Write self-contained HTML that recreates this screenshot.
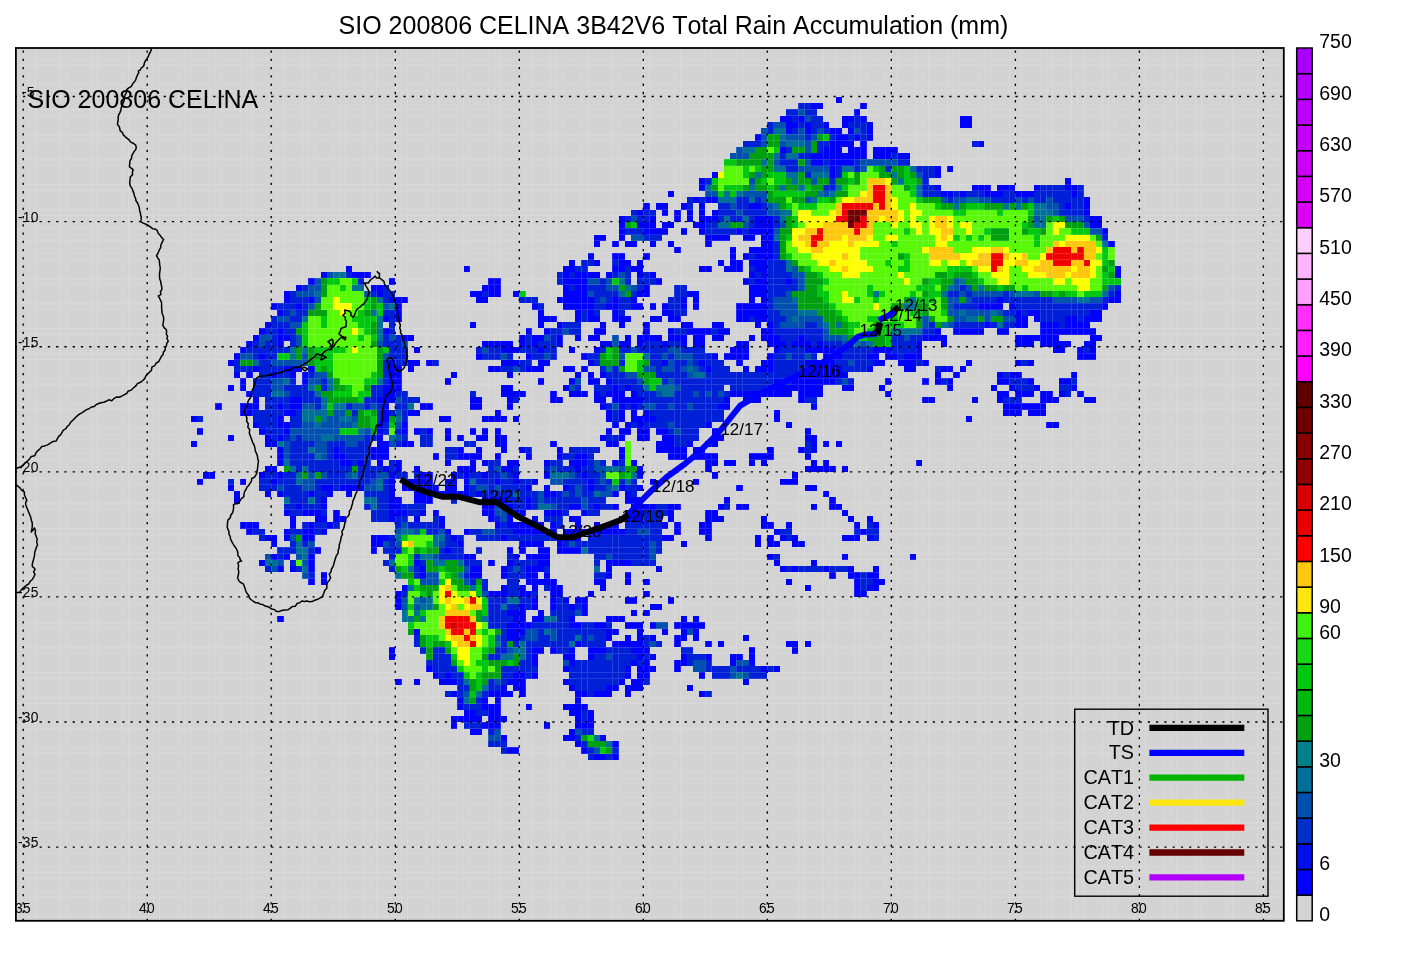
<!DOCTYPE html>
<html lang="en"><head><meta charset="utf-8"><title>SIO 200806 CELINA 3B42V6 Total Rain Accumulation (mm)</title>
<style>html,body{margin:0;padding:0;background:#fff}body{width:1425px;height:971px;overflow:hidden}svg{display:block;will-change:transform}text{font-family:"Liberation Sans",Arial,Helvetica,sans-serif;fill:#000;font-kerning:none;font-variant-ligatures:none}</style>
</head><body>
<svg width="1425" height="971" viewBox="0 0 1425 971">
<rect x="0" y="0" width="1425" height="971" fill="#fff"/>
<rect x="15.9" y="48.0" width="1267.9" height="872.8" fill="#d3d3d3"/>
<g shape-rendering="crispEdges">
<path fill="#0000ff" d="M835.5 96.9H841.7V103.2H835.5zM810.7 103.2H823.1V109.4H810.7zM860.3 103.2H866.5V109.4H860.3zM854.1 109.4H860.3V115.7H854.1zM779.7 115.7H792.1V121.9H779.7zM798.3 115.7H804.5V121.9H798.3zM841.7 115.7H854.1V121.9H841.7zM860.3 115.7H866.5V121.9H860.3zM959.6 115.7H972.0V121.9H959.6zM785.9 121.9H798.3V128.2H785.9zM804.5 121.9H810.7V128.2H804.5zM823.1 121.9H829.3V128.2H823.1zM841.7 121.9H847.9V128.2H841.7zM866.5 121.9H872.7V128.2H866.5zM959.6 121.9H972.0V128.2H959.6zM785.9 128.2H792.1V134.4H785.9zM804.5 128.2H810.7V134.4H804.5zM829.3 128.2H841.7V134.4H829.3zM847.9 128.2H854.1V134.4H847.9zM866.5 128.2H872.7V134.4H866.5zM754.9 134.4H761.1V140.7H754.9zM835.5 134.4H847.9V140.7H835.5zM854.1 134.4H860.3V140.7H854.1zM866.5 134.4H872.7V140.7H866.5zM829.3 140.7H854.1V146.9H829.3zM860.3 140.7H866.5V146.9H860.3zM978.2 140.7H984.4V146.9H978.2zM779.7 146.9H785.9V153.2H779.7zM823.1 146.9H841.7V153.2H823.1zM847.9 146.9H866.5V153.2H847.9zM872.7 146.9H897.5V153.2H872.7zM810.7 153.2H866.5V159.4H810.7zM872.7 153.2H891.3V159.4H872.7zM897.5 153.2H909.9V159.4H897.5zM810.7 159.4H823.1V165.7H810.7zM829.3 159.4H854.1V165.7H829.3zM829.3 165.7H835.5V172.0H829.3zM934.7 165.7H940.9V172.0H934.7zM947.1 165.7H953.4V172.0H947.1zM711.5 172.0H717.7V178.2H711.5zM829.3 172.0H835.5V178.2H829.3zM934.7 172.0H940.9V178.2H934.7zM699.1 178.2H705.3V184.5H699.1zM1065.0 178.2H1071.2V184.5H1065.0zM699.1 184.5H705.3V190.7H699.1zM934.7 184.5H940.9V190.7H934.7zM972.0 184.5H990.6V190.7H972.0zM996.8 184.5H1015.4V190.7H996.8zM1034.0 184.5H1040.2V190.7H1034.0zM1065.0 184.5H1077.4V190.7H1065.0zM668.1 190.7H674.3V197.0H668.1zM940.9 190.7H953.4V197.0H940.9zM959.6 190.7H965.8V197.0H959.6zM984.4 190.7H1003.0V197.0H984.4zM1015.4 190.7H1034.0V197.0H1015.4zM1071.2 190.7H1077.4V197.0H1071.2zM692.9 197.0H699.1V203.2H692.9zM705.3 197.0H717.7V203.2H705.3zM1083.6 197.0H1089.8V203.2H1083.6zM643.3 203.2H649.5V209.5H643.3zM655.7 203.2H668.1V209.5H655.7zM680.5 203.2H686.7V209.5H680.5zM699.1 203.2H705.3V209.5H699.1zM748.7 203.2H761.1V209.5H748.7zM1065.0 203.2H1071.2V209.5H1065.0zM1083.6 203.2H1089.8V209.5H1083.6zM637.1 209.5H643.3V215.7H637.1zM661.9 209.5H668.1V215.7H661.9zM674.3 209.5H680.5V215.7H674.3zM686.7 209.5H692.9V215.7H686.7zM699.1 209.5H705.3V215.7H699.1zM711.5 209.5H717.7V215.7H711.5zM1083.6 209.5H1089.8V215.7H1083.6zM618.5 215.7H624.7V222.0H618.5zM649.5 215.7H655.7V222.0H649.5zM674.3 215.7H680.5V222.0H674.3zM686.7 215.7H692.9V222.0H686.7zM699.1 215.7H717.7V222.0H699.1zM754.9 215.7H773.5V222.0H754.9zM1089.8 215.7H1102.2V222.0H1089.8zM618.5 222.0H624.7V228.3H618.5zM637.1 222.0H655.7V228.3H637.1zM661.9 222.0H674.3V228.3H661.9zM692.9 222.0H705.3V228.3H692.9zM754.9 222.0H773.5V228.3H754.9zM1089.8 222.0H1102.2V228.3H1089.8zM618.5 228.3H624.7V234.5H618.5zM643.3 228.3H668.1V234.5H643.3zM680.5 228.3H686.7V234.5H680.5zM699.1 228.3H705.3V234.5H699.1zM736.3 228.3H742.5V234.5H736.3zM748.7 228.3H773.5V234.5H748.7zM1102.2 228.3H1108.4V234.5H1102.2zM593.7 234.5H606.1V240.8H593.7zM618.5 234.5H624.7V240.8H618.5zM705.3 234.5H730.1V240.8H705.3zM742.5 234.5H754.9V240.8H742.5zM761.1 234.5H773.5V240.8H761.1zM593.7 240.8H599.9V247.0H593.7zM612.3 240.8H618.5V247.0H612.3zM624.7 240.8H637.1V247.0H624.7zM649.5 240.8H655.7V247.0H649.5zM668.1 240.8H674.3V247.0H668.1zM705.3 240.8H711.5V247.0H705.3zM761.1 240.8H773.5V247.0H761.1zM1108.4 240.8H1114.6V247.0H1108.4zM674.3 247.0H680.5V253.3H674.3zM730.1 247.0H736.3V253.3H730.1zM748.7 247.0H773.5V253.3H748.7zM587.5 253.3H593.7V259.5H587.5zM612.3 253.3H624.7V259.5H612.3zM643.3 253.3H649.5V259.5H643.3zM730.1 253.3H736.3V259.5H730.1zM742.5 253.3H748.7V259.5H742.5zM754.9 253.3H773.5V259.5H754.9zM568.9 259.5H575.1V265.8H568.9zM593.7 259.5H599.9V265.8H593.7zM618.5 259.5H630.9V265.8H618.5zM637.1 259.5H643.3V265.8H637.1zM717.7 259.5H723.9V265.8H717.7zM730.1 259.5H742.5V265.8H730.1zM748.7 259.5H767.3V265.8H748.7zM345.7 265.8H351.9V272.0H345.7zM463.5 265.8H469.7V272.0H463.5zM562.7 265.8H575.1V272.0H562.7zM612.3 265.8H624.7V272.0H612.3zM630.9 265.8H643.3V272.0H630.9zM699.1 265.8H711.5V272.0H699.1zM723.9 265.8H742.5V272.0H723.9zM754.9 265.8H767.3V272.0H754.9zM1114.6 265.8H1120.8V272.0H1114.6zM320.8 272.0H327.0V278.3H320.8zM351.9 272.0H370.5V278.3H351.9zM562.7 272.0H568.9V278.3H562.7zM575.1 272.0H599.9V278.3H575.1zM606.1 272.0H612.3V278.3H606.1zM637.1 272.0H643.3V278.3H637.1zM649.5 272.0H655.7V278.3H649.5zM748.7 272.0H754.9V278.3H748.7zM761.1 272.0H767.3V278.3H761.1zM1114.6 272.0H1120.8V278.3H1114.6zM308.4 278.3H314.6V284.6H308.4zM389.1 278.3H395.3V284.6H389.1zM488.3 278.3H500.7V284.6H488.3zM562.7 278.3H587.5V284.6H562.7zM655.7 278.3H661.9V284.6H655.7zM742.5 278.3H748.7V284.6H742.5zM754.9 278.3H767.3V284.6H754.9zM785.9 278.3H792.1V284.6H785.9zM296.0 284.6H302.2V290.8H296.0zM370.5 284.6H382.9V290.8H370.5zM482.1 284.6H500.7V290.8H482.1zM562.7 284.6H568.9V290.8H562.7zM575.1 284.6H587.5V290.8H575.1zM643.3 284.6H649.5V290.8H643.3zM748.7 284.6H767.3V290.8H748.7zM283.6 290.8H289.8V297.1H283.6zM376.7 290.8H382.9V297.1H376.7zM469.7 290.8H482.1V297.1H469.7zM488.3 290.8H500.7V297.1H488.3zM513.1 290.8H519.3V297.1H513.1zM562.7 290.8H587.5V297.1H562.7zM637.1 290.8H649.5V297.1H637.1zM686.7 290.8H699.1V297.1H686.7zM748.7 290.8H767.3V297.1H748.7zM1114.6 290.8H1120.8V297.1H1114.6zM283.6 297.1H289.8V303.3H283.6zM308.4 297.1H314.6V303.3H308.4zM389.1 297.1H407.7V303.3H389.1zM475.9 297.1H488.3V303.3H475.9zM556.5 297.1H593.7V303.3H556.5zM612.3 297.1H618.5V303.3H612.3zM630.9 297.1H637.1V303.3H630.9zM680.5 297.1H686.7V303.3H680.5zM692.9 297.1H699.1V303.3H692.9zM748.7 297.1H754.9V303.3H748.7zM761.1 297.1H767.3V303.3H761.1zM996.8 297.1H1003.0V303.3H996.8zM1108.4 297.1H1120.8V303.3H1108.4zM271.2 303.3H277.4V309.6H271.2zM296.0 303.3H302.2V309.6H296.0zM395.3 303.3H401.5V309.6H395.3zM531.7 303.3H537.9V309.6H531.7zM562.7 303.3H593.7V309.6H562.7zM606.1 303.3H618.5V309.6H606.1zM630.9 303.3H643.3V309.6H630.9zM649.5 303.3H655.7V309.6H649.5zM661.9 303.3H668.1V309.6H661.9zM680.5 303.3H686.7V309.6H680.5zM692.9 303.3H699.1V309.6H692.9zM736.3 303.3H767.3V309.6H736.3zM978.2 303.3H1003.0V309.6H978.2zM1009.2 303.3H1015.4V309.6H1009.2zM1102.2 303.3H1108.4V309.6H1102.2zM277.4 309.6H283.6V315.8H277.4zM395.3 309.6H401.5V315.8H395.3zM537.9 309.6H544.1V315.8H537.9zM575.1 309.6H581.3V315.8H575.1zM587.5 309.6H593.7V315.8H587.5zM612.3 309.6H618.5V315.8H612.3zM661.9 309.6H674.3V315.8H661.9zM736.3 309.6H767.3V315.8H736.3zM1015.4 309.6H1021.6V315.8H1015.4zM1027.8 309.6H1040.2V315.8H1027.8zM1089.8 309.6H1102.2V315.8H1089.8zM382.9 315.8H389.1V322.1H382.9zM395.3 315.8H401.5V322.1H395.3zM537.9 315.8H556.5V322.1H537.9zM575.1 315.8H581.3V322.1H575.1zM587.5 315.8H599.9V322.1H587.5zM612.3 315.8H630.9V322.1H612.3zM649.5 315.8H661.9V322.1H649.5zM668.1 315.8H680.5V322.1H668.1zM736.3 315.8H748.7V322.1H736.3zM754.9 315.8H767.3V322.1H754.9zM1015.4 315.8H1027.8V322.1H1015.4zM1034.0 315.8H1040.2V322.1H1034.0zM1065.0 315.8H1077.4V322.1H1065.0zM1083.6 315.8H1102.2V322.1H1083.6zM265.0 322.1H271.2V328.3H265.0zM469.7 322.1H475.9V328.3H469.7zM537.9 322.1H544.1V328.3H537.9zM556.5 322.1H562.7V328.3H556.5zM599.9 322.1H606.1V328.3H599.9zM618.5 322.1H624.7V328.3H618.5zM643.3 322.1H649.5V328.3H643.3zM680.5 322.1H692.9V328.3H680.5zM711.5 322.1H723.9V328.3H711.5zM754.9 322.1H761.1V328.3H754.9zM767.3 322.1H773.5V328.3H767.3zM984.4 322.1H990.6V328.3H984.4zM1015.4 322.1H1027.8V328.3H1015.4zM1040.2 322.1H1058.8V328.3H1040.2zM1065.0 322.1H1089.8V328.3H1065.0zM258.8 328.3H265.0V334.6H258.8zM277.4 328.3H283.6V334.6H277.4zM382.9 328.3H389.1V334.6H382.9zM525.5 328.3H531.7V334.6H525.5zM544.1 328.3H550.3V334.6H544.1zM593.7 328.3H606.1V334.6H593.7zM643.3 328.3H649.5V334.6H643.3zM668.1 328.3H674.3V334.6H668.1zM686.7 328.3H711.5V334.6H686.7zM717.7 328.3H730.1V334.6H717.7zM761.1 328.3H773.5V334.6H761.1zM934.7 328.3H940.9V334.6H934.7zM953.4 328.3H984.4V334.6H953.4zM996.8 328.3H1009.2V334.6H996.8zM1040.2 328.3H1096.0V334.6H1040.2zM252.6 334.6H258.8V340.8H252.6zM277.4 334.6H289.8V340.8H277.4zM401.5 334.6H413.9V340.8H401.5zM519.3 334.6H525.5V340.8H519.3zM531.7 334.6H544.1V340.8H531.7zM556.5 334.6H562.7V340.8H556.5zM575.1 334.6H581.3V340.8H575.1zM587.5 334.6H599.9V340.8H587.5zM624.7 334.6H630.9V340.8H624.7zM637.1 334.6H661.9V340.8H637.1zM668.1 334.6H686.7V340.8H668.1zM692.9 334.6H705.3V340.8H692.9zM711.5 334.6H723.9V340.8H711.5zM748.7 334.6H754.9V340.8H748.7zM761.1 334.6H779.7V340.8H761.1zM798.3 334.6H804.5V340.8H798.3zM922.3 334.6H947.1V340.8H922.3zM1015.4 334.6H1058.8V340.8H1015.4zM1089.8 334.6H1102.2V340.8H1089.8zM246.4 340.8H252.6V347.1H246.4zM277.4 340.8H283.6V347.1H277.4zM482.1 340.8H513.1V347.1H482.1zM519.3 340.8H525.5V347.1H519.3zM531.7 340.8H537.9V347.1H531.7zM556.5 340.8H562.7V347.1H556.5zM599.9 340.8H612.3V347.1H599.9zM618.5 340.8H630.9V347.1H618.5zM637.1 340.8H643.3V347.1H637.1zM661.9 340.8H668.1V347.1H661.9zM680.5 340.8H686.7V347.1H680.5zM692.9 340.8H705.3V347.1H692.9zM736.3 340.8H748.7V347.1H736.3zM767.3 340.8H785.9V347.1H767.3zM792.1 340.8H810.7V347.1H792.1zM816.9 340.8H823.1V347.1H816.9zM916.1 340.8H922.3V347.1H916.1zM940.9 340.8H947.1V347.1H940.9zM1015.4 340.8H1034.0V347.1H1015.4zM1040.2 340.8H1071.2V347.1H1040.2zM1083.6 340.8H1096.0V347.1H1083.6zM240.2 347.1H246.4V353.4H240.2zM413.9 347.1H420.1V353.4H413.9zM500.7 347.1H519.3V353.4H500.7zM537.9 347.1H544.1V353.4H537.9zM568.9 347.1H575.1V353.4H568.9zM593.7 347.1H599.9V353.4H593.7zM730.1 347.1H748.7V353.4H730.1zM773.5 347.1H779.7V353.4H773.5zM804.5 347.1H835.5V353.4H804.5zM872.7 347.1H891.3V353.4H872.7zM916.1 347.1H922.3V353.4H916.1zM1052.6 347.1H1065.0V353.4H1052.6zM1077.4 347.1H1083.6V353.4H1077.4zM1089.8 347.1H1096.0V353.4H1089.8zM234.0 353.4H240.2V359.6H234.0zM258.8 353.4H265.0V359.6H258.8zM475.9 353.4H482.1V359.6H475.9zM525.5 353.4H531.7V359.6H525.5zM581.3 353.4H587.5V359.6H581.3zM711.5 353.4H717.7V359.6H711.5zM723.9 353.4H748.7V359.6H723.9zM767.3 353.4H773.5V359.6H767.3zM823.1 353.4H841.7V359.6H823.1zM866.5 353.4H878.9V359.6H866.5zM885.1 353.4H897.5V359.6H885.1zM903.7 353.4H922.3V359.6H903.7zM1077.4 353.4H1096.0V359.6H1077.4zM227.8 359.6H234.0V365.9H227.8zM389.1 359.6H395.3V365.9H389.1zM407.7 359.6H420.1V365.9H407.7zM426.3 359.6H432.5V365.9H426.3zM500.7 359.6H519.3V365.9H500.7zM537.9 359.6H550.3V365.9H537.9zM587.5 359.6H593.7V365.9H587.5zM661.9 359.6H668.1V365.9H661.9zM699.1 359.6H705.3V365.9H699.1zM736.3 359.6H742.5V365.9H736.3zM761.1 359.6H773.5V365.9H761.1zM804.5 359.6H835.5V365.9H804.5zM872.7 359.6H885.1V365.9H872.7zM897.5 359.6H916.1V365.9H897.5zM922.3 359.6H928.5V365.9H922.3zM965.8 359.6H972.0V365.9H965.8zM1015.4 359.6H1021.6V365.9H1015.4zM1027.8 359.6H1034.0V365.9H1027.8zM252.6 365.9H258.8V372.1H252.6zM283.6 365.9H302.2V372.1H283.6zM308.4 365.9H314.6V372.1H308.4zM389.1 365.9H401.5V372.1H389.1zM407.7 365.9H413.9V372.1H407.7zM488.3 365.9H500.7V372.1H488.3zM525.5 365.9H544.1V372.1H525.5zM562.7 365.9H575.1V372.1H562.7zM581.3 365.9H587.5V372.1H581.3zM705.3 365.9H711.5V372.1H705.3zM742.5 365.9H748.7V372.1H742.5zM754.9 365.9H773.5V372.1H754.9zM810.7 365.9H841.7V372.1H810.7zM866.5 365.9H872.7V372.1H866.5zM903.7 365.9H916.1V372.1H903.7zM940.9 365.9H953.4V372.1H940.9zM959.6 365.9H965.8V372.1H959.6zM234.0 372.1H240.2V378.4H234.0zM246.4 372.1H252.6V378.4H246.4zM271.2 372.1H277.4V378.4H271.2zM289.8 372.1H296.0V378.4H289.8zM302.2 372.1H308.4V378.4H302.2zM389.1 372.1H401.5V378.4H389.1zM451.1 372.1H457.3V378.4H451.1zM506.9 372.1H513.1V378.4H506.9zM575.1 372.1H581.3V378.4H575.1zM587.5 372.1H593.7V378.4H587.5zM599.9 372.1H606.1V378.4H599.9zM798.3 372.1H847.9V378.4H798.3zM934.7 372.1H940.9V378.4H934.7zM953.4 372.1H959.6V378.4H953.4zM996.8 372.1H1003.0V378.4H996.8zM1009.2 372.1H1021.6V378.4H1009.2zM1071.2 372.1H1077.4V378.4H1071.2zM240.2 378.4H246.4V384.6H240.2zM302.2 378.4H308.4V384.6H302.2zM389.1 378.4H401.5V384.6H389.1zM444.9 378.4H451.1V384.6H444.9zM537.9 378.4H544.1V384.6H537.9zM568.9 378.4H575.1V384.6H568.9zM587.5 378.4H599.9V384.6H587.5zM606.1 378.4H612.3V384.6H606.1zM773.5 378.4H779.7V384.6H773.5zM792.1 378.4H835.5V384.6H792.1zM885.1 378.4H891.3V384.6H885.1zM922.3 378.4H928.5V384.6H922.3zM934.7 378.4H940.9V384.6H934.7zM947.1 378.4H953.4V384.6H947.1zM996.8 378.4H1009.2V384.6H996.8zM1027.8 378.4H1034.0V384.6H1027.8zM1058.8 378.4H1071.2V384.6H1058.8zM227.8 384.6H234.0V390.9H227.8zM240.2 384.6H246.4V390.9H240.2zM382.9 384.6H401.5V390.9H382.9zM500.7 384.6H513.1V390.9H500.7zM562.7 384.6H568.9V390.9H562.7zM612.3 384.6H618.5V390.9H612.3zM624.7 384.6H630.9V390.9H624.7zM767.3 384.6H823.1V390.9H767.3zM841.7 384.6H854.1V390.9H841.7zM878.9 384.6H885.1V390.9H878.9zM947.1 384.6H953.4V390.9H947.1zM990.6 384.6H996.8V390.9H990.6zM1009.2 384.6H1015.4V390.9H1009.2zM1034.0 384.6H1040.2V390.9H1034.0zM1071.2 384.6H1077.4V390.9H1071.2zM246.4 390.9H252.6V397.1H246.4zM382.9 390.9H395.3V397.1H382.9zM500.7 390.9H525.5V397.1H500.7zM550.3 390.9H556.5V397.1H550.3zM568.9 390.9H587.5V397.1H568.9zM593.7 390.9H599.9V397.1H593.7zM606.1 390.9H624.7V397.1H606.1zM630.9 390.9H637.1V397.1H630.9zM730.1 390.9H792.1V397.1H730.1zM798.3 390.9H823.1V397.1H798.3zM885.1 390.9H891.3V397.1H885.1zM996.8 390.9H1009.2V397.1H996.8zM1015.4 390.9H1034.0V397.1H1015.4zM1040.2 390.9H1052.6V397.1H1040.2zM1058.8 390.9H1065.0V397.1H1058.8zM1077.4 390.9H1083.6V397.1H1077.4zM252.6 397.1H258.8V403.4H252.6zM289.8 397.1H302.2V403.4H289.8zM376.7 397.1H395.3V403.4H376.7zM469.7 397.1H482.1V403.4H469.7zM506.9 397.1H513.1V403.4H506.9zM550.3 397.1H562.7V403.4H550.3zM593.7 397.1H606.1V403.4H593.7zM612.3 397.1H643.3V403.4H612.3zM723.9 397.1H730.1V403.4H723.9zM742.5 397.1H761.1V403.4H742.5zM798.3 397.1H804.5V403.4H798.3zM922.3 397.1H934.7V403.4H922.3zM972.0 397.1H978.2V403.4H972.0zM996.8 397.1H1003.0V403.4H996.8zM1040.2 397.1H1058.8V403.4H1040.2zM1083.6 397.1H1096.0V403.4H1083.6zM215.4 403.4H221.6V409.6H215.4zM240.2 403.4H258.8V409.6H240.2zM277.4 403.4H283.6V409.6H277.4zM289.8 403.4H302.2V409.6H289.8zM382.9 403.4H389.1V409.6H382.9zM420.1 403.4H432.5V409.6H420.1zM469.7 403.4H482.1V409.6H469.7zM506.9 403.4H513.1V409.6H506.9zM599.9 403.4H606.1V409.6H599.9zM618.5 403.4H624.7V409.6H618.5zM630.9 403.4H637.1V409.6H630.9zM717.7 403.4H730.1V409.6H717.7zM810.7 403.4H816.9V409.6H810.7zM1003.0 403.4H1046.4V409.6H1003.0zM240.2 409.6H252.6V415.9H240.2zM283.6 409.6H296.0V415.9H283.6zM382.9 409.6H389.1V415.9H382.9zM407.7 409.6H420.1V415.9H407.7zM494.5 409.6H500.7V415.9H494.5zM606.1 409.6H612.3V415.9H606.1zM618.5 409.6H624.7V415.9H618.5zM630.9 409.6H637.1V415.9H630.9zM643.3 409.6H649.5V415.9H643.3zM773.5 409.6H779.7V415.9H773.5zM1003.0 409.6H1021.6V415.9H1003.0zM1027.8 409.6H1046.4V415.9H1027.8zM190.6 415.9H196.8V422.2H190.6zM277.4 415.9H283.6V422.2H277.4zM382.9 415.9H389.1V422.2H382.9zM438.7 415.9H451.1V422.2H438.7zM482.1 415.9H506.9V422.2H482.1zM513.1 415.9H519.3V422.2H513.1zM606.1 415.9H612.3V422.2H606.1zM618.5 415.9H624.7V422.2H618.5zM630.9 415.9H655.7V422.2H630.9zM773.5 415.9H779.7V422.2H773.5zM965.8 415.9H972.0V422.2H965.8zM252.6 422.2H258.8V428.4H252.6zM277.4 422.2H289.8V428.4H277.4zM376.7 422.2H382.9V428.4H376.7zM401.5 422.2H407.7V428.4H401.5zM612.3 422.2H618.5V428.4H612.3zM624.7 422.2H630.9V428.4H624.7zM637.1 422.2H643.3V428.4H637.1zM705.3 422.2H711.5V428.4H705.3zM785.9 422.2H792.1V428.4H785.9zM1046.4 422.2H1058.8V428.4H1046.4zM196.8 428.4H203.0V434.7H196.8zM258.8 428.4H265.0V434.7H258.8zM283.6 428.4H289.8V434.7H283.6zM376.7 428.4H382.9V434.7H376.7zM401.5 428.4H407.7V434.7H401.5zM413.9 428.4H420.1V434.7H413.9zM426.3 428.4H432.5V434.7H426.3zM444.9 428.4H451.1V434.7H444.9zM469.7 428.4H475.9V434.7H469.7zM482.1 428.4H488.3V434.7H482.1zM494.5 428.4H500.7V434.7H494.5zM606.1 428.4H612.3V434.7H606.1zM618.5 428.4H630.9V434.7H618.5zM637.1 428.4H649.5V434.7H637.1zM655.7 428.4H668.1V434.7H655.7zM711.5 428.4H717.7V434.7H711.5zM804.5 428.4H810.7V434.7H804.5zM227.8 434.7H234.0V440.9H227.8zM265.0 434.7H271.2V440.9H265.0zM277.4 434.7H283.6V440.9H277.4zM376.7 434.7H382.9V440.9H376.7zM444.9 434.7H451.1V440.9H444.9zM457.3 434.7H463.5V440.9H457.3zM475.9 434.7H488.3V440.9H475.9zM494.5 434.7H506.9V440.9H494.5zM599.9 434.7H606.1V440.9H599.9zM618.5 434.7H624.7V440.9H618.5zM637.1 434.7H649.5V440.9H637.1zM661.9 434.7H674.3V440.9H661.9zM711.5 434.7H723.9V440.9H711.5zM804.5 434.7H816.9V440.9H804.5zM190.6 440.9H196.8V447.2H190.6zM265.0 440.9H277.4V447.2H265.0zM376.7 440.9H389.1V447.2H376.7zM401.5 440.9H413.9V447.2H401.5zM494.5 440.9H506.9V447.2H494.5zM550.3 440.9H556.5V447.2H550.3zM606.1 440.9H618.5V447.2H606.1zM655.7 440.9H674.3V447.2H655.7zM686.7 440.9H692.9V447.2H686.7zM705.3 440.9H717.7V447.2H705.3zM810.7 440.9H816.9V447.2H810.7zM823.1 440.9H829.3V447.2H823.1zM835.5 440.9H841.7V447.2H835.5zM277.4 447.2H283.6V453.4H277.4zM333.2 447.2H339.5V453.4H333.2zM370.5 447.2H389.1V453.4H370.5zM457.3 447.2H463.5V453.4H457.3zM475.9 447.2H482.1V453.4H475.9zM500.7 447.2H506.9V453.4H500.7zM519.3 447.2H525.5V453.4H519.3zM556.5 447.2H562.7V453.4H556.5zM618.5 447.2H624.7V453.4H618.5zM655.7 447.2H686.7V453.4H655.7zM692.9 447.2H705.3V453.4H692.9zM767.3 447.2H773.5V453.4H767.3zM798.3 447.2H804.5V453.4H798.3zM810.7 447.2H816.9V453.4H810.7zM277.4 453.4H283.6V459.7H277.4zM333.2 453.4H345.7V459.7H333.2zM370.5 453.4H389.1V459.7H370.5zM432.5 453.4H438.7V459.7H432.5zM457.3 453.4H482.1V459.7H457.3zM494.5 453.4H500.7V459.7H494.5zM525.5 453.4H531.7V459.7H525.5zM556.5 453.4H562.7V459.7H556.5zM575.1 453.4H587.5V459.7H575.1zM618.5 453.4H624.7V459.7H618.5zM668.1 453.4H686.7V459.7H668.1zM692.9 453.4H717.7V459.7H692.9zM748.7 453.4H773.5V459.7H748.7zM804.5 453.4H810.7V459.7H804.5zM277.4 459.7H283.6V465.9H277.4zM339.5 459.7H351.9V465.9H339.5zM358.1 459.7H364.3V465.9H358.1zM376.7 459.7H382.9V465.9H376.7zM395.3 459.7H401.5V465.9H395.3zM444.9 459.7H451.1V465.9H444.9zM469.7 459.7H475.9V465.9H469.7zM482.1 459.7H488.3V465.9H482.1zM506.9 459.7H519.3V465.9H506.9zM544.1 459.7H550.3V465.9H544.1zM568.9 459.7H587.5V465.9H568.9zM612.3 459.7H618.5V465.9H612.3zM630.9 459.7H637.1V465.9H630.9zM705.3 459.7H717.7V465.9H705.3zM723.9 459.7H736.3V465.9H723.9zM748.7 459.7H754.9V465.9H748.7zM761.1 459.7H767.3V465.9H761.1zM810.7 459.7H816.9V465.9H810.7zM823.1 459.7H829.3V465.9H823.1zM916.1 459.7H922.3V465.9H916.1zM265.0 465.9H277.4V472.2H265.0zM382.9 465.9H389.1V472.2H382.9zM395.3 465.9H401.5V472.2H395.3zM413.9 465.9H420.1V472.2H413.9zM457.3 465.9H475.9V472.2H457.3zM500.7 465.9H513.1V472.2H500.7zM575.1 465.9H581.3V472.2H575.1zM637.1 465.9H643.3V472.2H637.1zM705.3 465.9H711.5V472.2H705.3zM804.5 465.9H835.5V472.2H804.5zM841.7 465.9H847.9V472.2H841.7zM203.0 472.2H215.4V478.5H203.0zM258.8 472.2H265.0V478.5H258.8zM277.4 472.2H283.6V478.5H277.4zM389.1 472.2H395.3V478.5H389.1zM420.1 472.2H432.5V478.5H420.1zM451.1 472.2H457.3V478.5H451.1zM463.5 472.2H469.7V478.5H463.5zM482.1 472.2H488.3V478.5H482.1zM513.1 472.2H519.3V478.5H513.1zM544.1 472.2H550.3V478.5H544.1zM581.3 472.2H587.5V478.5H581.3zM637.1 472.2H643.3V478.5H637.1zM711.5 472.2H717.7V478.5H711.5zM792.1 472.2H798.3V478.5H792.1zM196.8 478.5H203.0V484.7H196.8zM240.2 478.5H246.4V484.7H240.2zM271.2 478.5H277.4V484.7H271.2zM389.1 478.5H395.3V484.7H389.1zM401.5 478.5H432.5V484.7H401.5zM444.9 478.5H457.3V484.7H444.9zM463.5 478.5H469.7V484.7H463.5zM494.5 478.5H500.7V484.7H494.5zM513.1 478.5H519.3V484.7H513.1zM531.7 478.5H537.9V484.7H531.7zM587.5 478.5H593.7V484.7H587.5zM649.5 478.5H655.7V484.7H649.5zM692.9 478.5H699.1V484.7H692.9zM779.7 478.5H798.3V484.7H779.7zM227.8 484.7H234.0V491.0H227.8zM320.8 484.7H333.2V491.0H320.8zM339.5 484.7H364.3V491.0H339.5zM389.1 484.7H395.3V491.0H389.1zM401.5 484.7H438.7V491.0H401.5zM444.9 484.7H457.3V491.0H444.9zM463.5 484.7H469.7V491.0H463.5zM525.5 484.7H531.7V491.0H525.5zM544.1 484.7H550.3V491.0H544.1zM562.7 484.7H568.9V491.0H562.7zM587.5 484.7H593.7V491.0H587.5zM618.5 484.7H624.7V491.0H618.5zM637.1 484.7H643.3V491.0H637.1zM736.3 484.7H742.5V491.0H736.3zM804.5 484.7H816.9V491.0H804.5zM234.0 491.0H240.2V497.2H234.0zM265.0 491.0H271.2V497.2H265.0zM277.4 491.0H283.6V497.2H277.4zM308.4 491.0H314.6V497.2H308.4zM327.0 491.0H333.2V497.2H327.0zM345.7 491.0H351.9V497.2H345.7zM389.1 491.0H395.3V497.2H389.1zM413.9 491.0H469.7V497.2H413.9zM475.9 491.0H482.1V497.2H475.9zM544.1 491.0H556.5V497.2H544.1zM612.3 491.0H618.5V497.2H612.3zM624.7 491.0H630.9V497.2H624.7zM823.1 491.0H829.3V497.2H823.1zM234.0 497.2H240.2V503.5H234.0zM320.8 497.2H327.0V503.5H320.8zM389.1 497.2H401.5V503.5H389.1zM413.9 497.2H432.5V503.5H413.9zM482.1 497.2H506.9V503.5H482.1zM525.5 497.2H531.7V503.5H525.5zM624.7 497.2H643.3V503.5H624.7zM723.9 497.2H730.1V503.5H723.9zM829.3 497.2H835.5V503.5H829.3zM296.0 503.5H302.2V509.7H296.0zM320.8 503.5H327.0V509.7H320.8zM389.1 503.5H401.5V509.7H389.1zM482.1 503.5H494.5V509.7H482.1zM500.7 503.5H513.1V509.7H500.7zM525.5 503.5H531.7V509.7H525.5zM568.9 503.5H581.3V509.7H568.9zM593.7 503.5H599.9V509.7H593.7zM612.3 503.5H618.5V509.7H612.3zM630.9 503.5H655.7V509.7H630.9zM668.1 503.5H680.5V509.7H668.1zM717.7 503.5H723.9V509.7H717.7zM736.3 503.5H748.7V509.7H736.3zM810.7 503.5H816.9V509.7H810.7zM829.3 503.5H841.7V509.7H829.3zM283.6 509.7H289.8V516.0H283.6zM302.2 509.7H320.8V516.0H302.2zM333.2 509.7H339.5V516.0H333.2zM389.1 509.7H407.7V516.0H389.1zM420.1 509.7H426.3V516.0H420.1zM432.5 509.7H438.7V516.0H432.5zM482.1 509.7H494.5V516.0H482.1zM506.9 509.7H525.5V516.0H506.9zM544.1 509.7H562.7V516.0H544.1zM581.3 509.7H587.5V516.0H581.3zM624.7 509.7H643.3V516.0H624.7zM668.1 509.7H674.3V516.0H668.1zM705.3 509.7H717.7V516.0H705.3zM841.7 509.7H847.9V516.0H841.7zM289.8 516.0H296.0V522.2H289.8zM314.6 516.0H327.0V522.2H314.6zM333.2 516.0H345.7V522.2H333.2zM389.1 516.0H395.3V522.2H389.1zM413.9 516.0H420.1V522.2H413.9zM438.7 516.0H444.9V522.2H438.7zM488.3 516.0H494.5V522.2H488.3zM506.9 516.0H513.1V522.2H506.9zM531.7 516.0H537.9V522.2H531.7zM568.9 516.0H581.3V522.2H568.9zM618.5 516.0H643.3V522.2H618.5zM668.1 516.0H674.3V522.2H668.1zM705.3 516.0H723.9V522.2H705.3zM761.1 516.0H767.3V522.2H761.1zM847.9 516.0H854.1V522.2H847.9zM866.5 516.0H872.7V522.2H866.5zM240.2 522.2H258.8V528.5H240.2zM289.8 522.2H296.0V528.5H289.8zM308.4 522.2H314.6V528.5H308.4zM327.0 522.2H333.2V528.5H327.0zM438.7 522.2H444.9V528.5H438.7zM494.5 522.2H500.7V528.5H494.5zM506.9 522.2H544.1V528.5H506.9zM550.3 522.2H556.5V528.5H550.3zM575.1 522.2H581.3V528.5H575.1zM593.7 522.2H599.9V528.5H593.7zM606.1 522.2H618.5V528.5H606.1zM661.9 522.2H668.1V528.5H661.9zM674.3 522.2H680.5V528.5H674.3zM699.1 522.2H711.5V528.5H699.1zM761.1 522.2H773.5V528.5H761.1zM785.9 522.2H792.1V528.5H785.9zM854.1 522.2H860.3V528.5H854.1zM872.7 522.2H878.9V528.5H872.7zM246.4 528.5H252.6V534.8H246.4zM283.6 528.5H289.8V534.8H283.6zM302.2 528.5H314.6V534.8H302.2zM320.8 528.5H327.0V534.8H320.8zM444.9 528.5H451.1V534.8H444.9zM463.5 528.5H469.7V534.8H463.5zM513.1 528.5H556.5V534.8H513.1zM562.7 528.5H624.7V534.8H562.7zM674.3 528.5H680.5V534.8H674.3zM699.1 528.5H711.5V534.8H699.1zM773.5 528.5H779.7V534.8H773.5zM860.3 528.5H866.5V534.8H860.3zM265.0 534.8H277.4V541.0H265.0zM283.6 534.8H289.8V541.0H283.6zM302.2 534.8H314.6V541.0H302.2zM370.5 534.8H389.1V541.0H370.5zM451.1 534.8H457.3V541.0H451.1zM500.7 534.8H506.9V541.0H500.7zM556.5 534.8H581.3V541.0H556.5zM661.9 534.8H674.3V541.0H661.9zM705.3 534.8H711.5V541.0H705.3zM754.9 534.8H761.1V541.0H754.9zM767.3 534.8H773.5V541.0H767.3zM779.7 534.8H785.9V541.0H779.7zM792.1 534.8H798.3V541.0H792.1zM841.7 534.8H860.3V541.0H841.7zM866.5 534.8H872.7V541.0H866.5zM271.2 541.0H277.4V547.3H271.2zM370.5 541.0H382.9V547.3H370.5zM457.3 541.0H463.5V547.3H457.3zM519.3 541.0H544.1V547.3H519.3zM556.5 541.0H562.7V547.3H556.5zM680.5 541.0H686.7V547.3H680.5zM754.9 541.0H761.1V547.3H754.9zM767.3 541.0H779.7V547.3H767.3zM792.1 541.0H804.5V547.3H792.1zM314.6 547.3H320.8V553.5H314.6zM370.5 547.3H376.7V553.5H370.5zM444.9 547.3H451.1V553.5H444.9zM506.9 547.3H513.1V553.5H506.9zM519.3 547.3H525.5V553.5H519.3zM537.9 547.3H550.3V553.5H537.9zM556.5 547.3H581.3V553.5H556.5zM271.2 553.5H277.4V559.8H271.2zM283.6 553.5H289.8V559.8H283.6zM308.4 553.5H314.6V559.8H308.4zM463.5 553.5H475.9V559.8H463.5zM513.1 553.5H519.3V559.8H513.1zM525.5 553.5H550.3V559.8H525.5zM767.3 553.5H773.5V559.8H767.3zM841.7 553.5H847.9V559.8H841.7zM909.9 553.5H916.1V559.8H909.9zM258.8 559.8H265.0V566.0H258.8zM308.4 559.8H314.6V566.0H308.4zM413.9 559.8H420.1V566.0H413.9zM488.3 559.8H494.5V566.0H488.3zM506.9 559.8H513.1V566.0H506.9zM537.9 559.8H550.3V566.0H537.9zM606.1 559.8H630.9V566.0H606.1zM773.5 559.8H779.7V566.0H773.5zM810.7 559.8H816.9V566.0H810.7zM277.4 566.0H283.6V572.3H277.4zM289.8 566.0H296.0V572.3H289.8zM308.4 566.0H314.6V572.3H308.4zM420.1 566.0H426.3V572.3H420.1zM469.7 566.0H482.1V572.3H469.7zM500.7 566.0H506.9V572.3H500.7zM525.5 566.0H544.1V572.3H525.5zM606.1 566.0H612.3V572.3H606.1zM655.7 566.0H661.9V572.3H655.7zM779.7 566.0H785.9V572.3H779.7zM792.1 566.0H798.3V572.3H792.1zM823.1 566.0H829.3V572.3H823.1zM847.9 566.0H854.1V572.3H847.9zM872.7 566.0H878.9V572.3H872.7zM320.8 572.3H327.0V578.5H320.8zM420.1 572.3H426.3V578.5H420.1zM469.7 572.3H482.1V578.5H469.7zM500.7 572.3H506.9V578.5H500.7zM525.5 572.3H537.9V578.5H525.5zM544.1 572.3H550.3V578.5H544.1zM606.1 572.3H612.3V578.5H606.1zM624.7 572.3H630.9V578.5H624.7zM829.3 572.3H835.5V578.5H829.3zM847.9 572.3H860.3V578.5H847.9zM866.5 572.3H878.9V578.5H866.5zM308.4 578.5H314.6V584.8H308.4zM320.8 578.5H327.0V584.8H320.8zM525.5 578.5H556.5V584.8H525.5zM593.7 578.5H606.1V584.8H593.7zM624.7 578.5H630.9V584.8H624.7zM643.3 578.5H649.5V584.8H643.3zM785.9 578.5H792.1V584.8H785.9zM854.1 578.5H860.3V584.8H854.1zM872.7 578.5H885.1V584.8H872.7zM401.5 584.8H407.7V591.0H401.5zM500.7 584.8H506.9V591.0H500.7zM519.3 584.8H525.5V591.0H519.3zM531.7 584.8H537.9V591.0H531.7zM550.3 584.8H562.7V591.0H550.3zM599.9 584.8H606.1V591.0H599.9zM804.5 584.8H810.7V591.0H804.5zM854.1 584.8H860.3V591.0H854.1zM866.5 584.8H878.9V591.0H866.5zM395.3 591.0H401.5V597.3H395.3zM488.3 591.0H506.9V597.3H488.3zM519.3 591.0H531.7V597.3H519.3zM550.3 591.0H562.7V597.3H550.3zM587.5 591.0H593.7V597.3H587.5zM643.3 591.0H649.5V597.3H643.3zM854.1 591.0H866.5V597.3H854.1zM395.3 597.3H401.5V603.6H395.3zM531.7 597.3H537.9V603.6H531.7zM550.3 597.3H556.5V603.6H550.3zM562.7 597.3H568.9V603.6H562.7zM575.1 597.3H587.5V603.6H575.1zM624.7 597.3H637.1V603.6H624.7zM668.1 597.3H674.3V603.6H668.1zM395.3 603.6H401.5V609.8H395.3zM519.3 603.6H525.5V609.8H519.3zM531.7 603.6H537.9V609.8H531.7zM550.3 603.6H556.5V609.8H550.3zM568.9 603.6H575.1V609.8H568.9zM581.3 603.6H587.5V609.8H581.3zM649.5 603.6H661.9V609.8H649.5zM506.9 609.8H525.5V616.1H506.9zM537.9 609.8H544.1V616.1H537.9zM581.3 609.8H587.5V616.1H581.3zM630.9 609.8H637.1V616.1H630.9zM643.3 609.8H649.5V616.1H643.3zM277.4 616.1H283.6V622.3H277.4zM513.1 616.1H525.5V622.3H513.1zM531.7 616.1H544.1V622.3H531.7zM568.9 616.1H575.1V622.3H568.9zM606.1 616.1H624.7V622.3H606.1zM680.5 616.1H686.7V622.3H680.5zM692.9 616.1H699.1V622.3H692.9zM506.9 622.3H531.7V628.6H506.9zM568.9 622.3H581.3V628.6H568.9zM593.7 622.3H606.1V628.6H593.7zM624.7 622.3H643.3V628.6H624.7zM649.5 622.3H655.7V628.6H649.5zM674.3 622.3H705.3V628.6H674.3zM413.9 628.6H420.1V634.8H413.9zM506.9 628.6H525.5V634.8H506.9zM606.1 628.6H618.5V634.8H606.1zM637.1 628.6H643.3V634.8H637.1zM661.9 628.6H668.1V634.8H661.9zM680.5 628.6H686.7V634.8H680.5zM692.9 628.6H699.1V634.8H692.9zM506.9 634.8H519.3V641.1H506.9zM606.1 634.8H612.3V641.1H606.1zM624.7 634.8H630.9V641.1H624.7zM637.1 634.8H643.3V641.1H637.1zM649.5 634.8H655.7V641.1H649.5zM674.3 634.8H686.7V641.1H674.3zM692.9 634.8H699.1V641.1H692.9zM742.5 634.8H748.7V641.1H742.5zM575.1 641.1H581.3V647.3H575.1zM612.3 641.1H643.3V647.3H612.3zM674.3 641.1H680.5V647.3H674.3zM705.3 641.1H711.5V647.3H705.3zM717.7 641.1H723.9V647.3H717.7zM785.9 641.1H798.3V647.3H785.9zM804.5 641.1H810.7V647.3H804.5zM389.1 647.3H395.3V653.6H389.1zM531.7 647.3H544.1V653.6H531.7zM550.3 647.3H556.5V653.6H550.3zM568.9 647.3H575.1V653.6H568.9zM587.5 647.3H606.1V653.6H587.5zM630.9 647.3H649.5V653.6H630.9zM748.7 647.3H754.9V653.6H748.7zM792.1 647.3H798.3V653.6H792.1zM389.1 653.6H395.3V659.9H389.1zM531.7 653.6H537.9V659.9H531.7zM562.7 653.6H575.1V659.9H562.7zM587.5 653.6H593.7V659.9H587.5zM637.1 653.6H643.3V659.9H637.1zM649.5 653.6H655.7V659.9H649.5zM680.5 653.6H686.7V659.9H680.5zM705.3 653.6H711.5V659.9H705.3zM730.1 653.6H742.5V659.9H730.1zM748.7 653.6H754.9V659.9H748.7zM531.7 659.9H537.9V666.1H531.7zM568.9 659.9H575.1V666.1H568.9zM630.9 659.9H637.1V666.1H630.9zM643.3 659.9H649.5V666.1H643.3zM674.3 659.9H686.7V666.1H674.3zM730.1 659.9H736.3V666.1H730.1zM748.7 659.9H754.9V666.1H748.7zM426.3 666.1H432.5V672.4H426.3zM562.7 666.1H568.9V672.4H562.7zM624.7 666.1H630.9V672.4H624.7zM637.1 666.1H655.7V672.4H637.1zM674.3 666.1H680.5V672.4H674.3zM761.1 666.1H767.3V672.4H761.1zM773.5 666.1H779.7V672.4H773.5zM432.5 672.4H438.7V678.6H432.5zM444.9 672.4H451.1V678.6H444.9zM513.1 672.4H525.5V678.6H513.1zM531.7 672.4H537.9V678.6H531.7zM624.7 672.4H630.9V678.6H624.7zM637.1 672.4H649.5V678.6H637.1zM699.1 672.4H705.3V678.6H699.1zM395.3 678.6H401.5V684.9H395.3zM413.9 678.6H420.1V684.9H413.9zM438.7 678.6H457.3V684.9H438.7zM506.9 678.6H525.5V684.9H506.9zM562.7 678.6H568.9V684.9H562.7zM618.5 678.6H624.7V684.9H618.5zM630.9 678.6H643.3V684.9H630.9zM742.5 678.6H748.7V684.9H742.5zM500.7 684.9H506.9V691.1H500.7zM513.1 684.9H525.5V691.1H513.1zM568.9 684.9H575.1V691.1H568.9zM606.1 684.9H618.5V691.1H606.1zM624.7 684.9H643.3V691.1H624.7zM686.7 684.9H692.9V691.1H686.7zM451.1 691.1H457.3V697.4H451.1zM488.3 691.1H513.1V697.4H488.3zM519.3 691.1H525.5V697.4H519.3zM575.1 691.1H587.5V697.4H575.1zM593.7 691.1H612.3V697.4H593.7zM624.7 691.1H630.9V697.4H624.7zM699.1 691.1H705.3V697.4H699.1zM457.3 697.4H463.5V703.6H457.3zM482.1 697.4H488.3V703.6H482.1zM494.5 697.4H500.7V703.6H494.5zM575.1 697.4H581.3V703.6H575.1zM457.3 703.6H463.5V709.9H457.3zM482.1 703.6H500.7V709.9H482.1zM525.5 703.6H531.7V709.9H525.5zM562.7 703.6H587.5V709.9H562.7zM463.5 709.9H475.9V716.1H463.5zM488.3 709.9H500.7V716.1H488.3zM568.9 709.9H581.3V716.1H568.9zM587.5 709.9H593.7V716.1H587.5zM451.1 716.1H482.1V722.4H451.1zM488.3 716.1H506.9V722.4H488.3zM575.1 716.1H581.3V722.4H575.1zM587.5 716.1H593.7V722.4H587.5zM451.1 722.4H457.3V728.7H451.1zM482.1 722.4H500.7V728.7H482.1zM544.1 722.4H550.3V728.7H544.1zM575.1 722.4H593.7V728.7H575.1zM469.7 728.7H482.1V734.9H469.7zM568.9 728.7H575.1V734.9H568.9zM500.7 734.9H506.9V741.2H500.7zM562.7 734.9H575.1V741.2H562.7zM599.9 734.9H606.1V741.2H599.9zM575.1 741.2H581.3V747.4H575.1zM612.3 741.2H618.5V747.4H612.3zM506.9 747.4H519.3V753.7H506.9zM581.3 747.4H587.5V753.7H581.3zM593.7 753.7H606.1V759.9H593.7zM612.3 753.7H618.5V759.9H612.3z"/>
<path fill="#0020d8" d="M798.3 103.2H810.7V109.4H798.3zM785.9 109.4H798.3V115.7H785.9zM804.5 109.4H816.9V115.7H804.5zM792.1 115.7H798.3V121.9H792.1zM810.7 115.7H823.1V121.9H810.7zM854.1 115.7H860.3V121.9H854.1zM767.3 121.9H773.5V128.2H767.3zM798.3 121.9H804.5V128.2H798.3zM810.7 121.9H823.1V128.2H810.7zM847.9 121.9H866.5V128.2H847.9zM767.3 128.2H773.5V134.4H767.3zM792.1 128.2H798.3V134.4H792.1zM810.7 128.2H816.9V134.4H810.7zM823.1 128.2H829.3V134.4H823.1zM860.3 128.2H866.5V134.4H860.3zM804.5 134.4H810.7V140.7H804.5zM829.3 134.4H835.5V140.7H829.3zM847.9 134.4H854.1V140.7H847.9zM860.3 134.4H866.5V140.7H860.3zM742.5 140.7H761.1V146.9H742.5zM816.9 140.7H829.3V146.9H816.9zM972.0 140.7H978.2V146.9H972.0zM785.9 146.9H792.1V153.2H785.9zM816.9 146.9H823.1V153.2H816.9zM779.7 153.2H785.9V159.4H779.7zM798.3 153.2H810.7V159.4H798.3zM891.3 153.2H897.5V159.4H891.3zM779.7 159.4H798.3V165.7H779.7zM823.1 159.4H829.3V165.7H823.1zM854.1 159.4H860.3V165.7H854.1zM897.5 159.4H909.9V165.7H897.5zM785.9 165.7H798.3V172.0H785.9zM835.5 165.7H841.7V172.0H835.5zM854.1 165.7H860.3V172.0H854.1zM885.1 165.7H891.3V172.0H885.1zM916.1 165.7H934.7V172.0H916.1zM804.5 172.0H810.7V178.2H804.5zM835.5 172.0H841.7V178.2H835.5zM922.3 172.0H934.7V178.2H922.3zM705.3 178.2H711.5V184.5H705.3zM829.3 178.2H835.5V184.5H829.3zM922.3 178.2H928.5V184.5H922.3zM823.1 184.5H835.5V190.7H823.1zM922.3 184.5H934.7V190.7H922.3zM1040.2 184.5H1065.0V190.7H1040.2zM1077.4 184.5H1083.6V190.7H1077.4zM922.3 190.7H940.9V197.0H922.3zM953.4 190.7H959.6V197.0H953.4zM965.8 190.7H984.4V197.0H965.8zM1003.0 190.7H1015.4V197.0H1003.0zM1034.0 190.7H1071.2V197.0H1034.0zM1077.4 190.7H1083.6V197.0H1077.4zM686.7 197.0H692.9V203.2H686.7zM699.1 197.0H705.3V203.2H699.1zM736.3 197.0H748.7V203.2H736.3zM754.9 197.0H761.1V203.2H754.9zM947.1 197.0H953.4V203.2H947.1zM990.6 197.0H1015.4V203.2H990.6zM1021.6 197.0H1027.8V203.2H1021.6zM1034.0 197.0H1046.4V203.2H1034.0zM1052.6 197.0H1083.6V203.2H1052.6zM686.7 203.2H692.9V209.5H686.7zM717.7 203.2H730.1V209.5H717.7zM736.3 203.2H748.7V209.5H736.3zM761.1 203.2H767.3V209.5H761.1zM1058.8 203.2H1065.0V209.5H1058.8zM1071.2 203.2H1083.6V209.5H1071.2zM630.9 209.5H637.1V215.7H630.9zM643.3 209.5H655.7V215.7H643.3zM717.7 209.5H736.3V215.7H717.7zM742.5 209.5H767.3V215.7H742.5zM1058.8 209.5H1083.6V215.7H1058.8zM624.7 215.7H630.9V222.0H624.7zM637.1 215.7H649.5V222.0H637.1zM717.7 215.7H723.9V222.0H717.7zM730.1 215.7H742.5V222.0H730.1zM748.7 215.7H754.9V222.0H748.7zM773.5 215.7H779.7V222.0H773.5zM1083.6 215.7H1089.8V222.0H1083.6zM705.3 222.0H717.7V228.3H705.3zM748.7 222.0H754.9V228.3H748.7zM773.5 222.0H779.7V228.3H773.5zM624.7 228.3H643.3V234.5H624.7zM705.3 228.3H736.3V234.5H705.3zM742.5 228.3H748.7V234.5H742.5zM643.3 234.5H661.9V240.8H643.3zM1102.2 234.5H1108.4V240.8H1102.2zM773.5 240.8H779.7V247.0H773.5zM773.5 247.0H779.7V253.3H773.5zM748.7 253.3H754.9V259.5H748.7zM773.5 253.3H779.7V259.5H773.5zM581.3 259.5H593.7V265.8H581.3zM612.3 259.5H618.5V265.8H612.3zM767.3 259.5H785.9V265.8H767.3zM575.1 265.8H587.5V272.0H575.1zM624.7 265.8H630.9V272.0H624.7zM748.7 265.8H754.9V272.0H748.7zM767.3 265.8H785.9V272.0H767.3zM345.7 272.0H351.9V278.3H345.7zM556.5 272.0H562.7V278.3H556.5zM568.9 272.0H575.1V278.3H568.9zM612.3 272.0H618.5V278.3H612.3zM624.7 272.0H630.9V278.3H624.7zM643.3 272.0H649.5V278.3H643.3zM754.9 272.0H761.1V278.3H754.9zM767.3 272.0H792.1V278.3H767.3zM358.1 278.3H364.3V284.6H358.1zM556.5 278.3H562.7V284.6H556.5zM599.9 278.3H606.1V284.6H599.9zM624.7 278.3H630.9V284.6H624.7zM637.1 278.3H655.7V284.6H637.1zM748.7 278.3H754.9V284.6H748.7zM767.3 278.3H785.9V284.6H767.3zM792.1 278.3H798.3V284.6H792.1zM302.2 284.6H308.4V290.8H302.2zM382.9 284.6H389.1V290.8H382.9zM568.9 284.6H575.1V290.8H568.9zM587.5 284.6H606.1V290.8H587.5zM637.1 284.6H643.3V290.8H637.1zM674.3 284.6H686.7V290.8H674.3zM767.3 284.6H798.3V290.8H767.3zM959.6 284.6H965.8V290.8H959.6zM1114.6 284.6H1120.8V290.8H1114.6zM289.8 290.8H296.0V297.1H289.8zM370.5 290.8H376.7V297.1H370.5zM382.9 290.8H395.3V297.1H382.9zM482.1 290.8H488.3V297.1H482.1zM593.7 290.8H618.5V297.1H593.7zM630.9 290.8H637.1V297.1H630.9zM674.3 290.8H686.7V297.1H674.3zM767.3 290.8H785.9V297.1H767.3zM947.1 290.8H959.6V297.1H947.1zM965.8 290.8H972.0V297.1H965.8zM1003.0 290.8H1009.2V297.1H1003.0zM1108.4 290.8H1114.6V297.1H1108.4zM289.8 297.1H308.4V303.3H289.8zM382.9 297.1H389.1V303.3H382.9zM519.3 297.1H537.9V303.3H519.3zM593.7 297.1H599.9V303.3H593.7zM606.1 297.1H612.3V303.3H606.1zM618.5 297.1H630.9V303.3H618.5zM668.1 297.1H680.5V303.3H668.1zM767.3 297.1H773.5V303.3H767.3zM972.0 297.1H996.8V303.3H972.0zM1003.0 297.1H1052.6V303.3H1003.0zM1102.2 297.1H1108.4V303.3H1102.2zM277.4 303.3H296.0V309.6H277.4zM302.2 303.3H308.4V309.6H302.2zM537.9 303.3H544.1V309.6H537.9zM593.7 303.3H606.1V309.6H593.7zM618.5 303.3H630.9V309.6H618.5zM668.1 303.3H680.5V309.6H668.1zM767.3 303.3H773.5V309.6H767.3zM953.4 303.3H978.2V309.6H953.4zM1015.4 303.3H1102.2V309.6H1015.4zM283.6 309.6H289.8V315.8H283.6zM296.0 309.6H308.4V315.8H296.0zM382.9 309.6H395.3V315.8H382.9zM581.3 309.6H587.5V315.8H581.3zM593.7 309.6H599.9V315.8H593.7zM618.5 309.6H624.7V315.8H618.5zM674.3 309.6H686.7V315.8H674.3zM767.3 309.6H779.7V315.8H767.3zM1003.0 309.6H1015.4V315.8H1003.0zM1021.6 309.6H1027.8V315.8H1021.6zM1040.2 309.6H1089.8V315.8H1040.2zM271.2 315.8H277.4V322.1H271.2zM289.8 315.8H302.2V322.1H289.8zM389.1 315.8H395.3V322.1H389.1zM581.3 315.8H587.5V322.1H581.3zM748.7 315.8H754.9V322.1H748.7zM767.3 315.8H785.9V322.1H767.3zM1040.2 315.8H1065.0V322.1H1040.2zM1077.4 315.8H1083.6V322.1H1077.4zM271.2 322.1H289.8V328.3H271.2zM389.1 322.1H395.3V328.3H389.1zM562.7 322.1H581.3V328.3H562.7zM773.5 322.1H779.7V328.3H773.5zM804.5 322.1H816.9V328.3H804.5zM928.5 322.1H934.7V328.3H928.5zM953.4 322.1H984.4V328.3H953.4zM990.6 322.1H996.8V328.3H990.6zM1003.0 322.1H1015.4V328.3H1003.0zM1058.8 322.1H1065.0V328.3H1058.8zM265.0 328.3H277.4V334.6H265.0zM283.6 328.3H296.0V334.6H283.6zM389.1 328.3H395.3V334.6H389.1zM550.3 328.3H562.7V334.6H550.3zM568.9 328.3H581.3V334.6H568.9zM674.3 328.3H686.7V334.6H674.3zM711.5 328.3H717.7V334.6H711.5zM773.5 328.3H823.1V334.6H773.5zM922.3 328.3H934.7V334.6H922.3zM271.2 334.6H277.4V340.8H271.2zM289.8 334.6H296.0V340.8H289.8zM382.9 334.6H389.1V340.8H382.9zM395.3 334.6H401.5V340.8H395.3zM525.5 334.6H531.7V340.8H525.5zM550.3 334.6H556.5V340.8H550.3zM779.7 334.6H798.3V340.8H779.7zM804.5 334.6H823.1V340.8H804.5zM891.3 334.6H903.7V340.8H891.3zM909.9 334.6H922.3V340.8H909.9zM252.6 340.8H258.8V347.1H252.6zM265.0 340.8H277.4V347.1H265.0zM289.8 340.8H296.0V347.1H289.8zM382.9 340.8H401.5V347.1H382.9zM525.5 340.8H531.7V347.1H525.5zM537.9 340.8H556.5V347.1H537.9zM643.3 340.8H661.9V347.1H643.3zM668.1 340.8H680.5V347.1H668.1zM785.9 340.8H792.1V347.1H785.9zM810.7 340.8H816.9V347.1H810.7zM823.1 340.8H841.7V347.1H823.1zM891.3 340.8H916.1V347.1H891.3zM246.4 347.1H289.8V353.4H246.4zM389.1 347.1H407.7V353.4H389.1zM475.9 347.1H482.1V353.4H475.9zM488.3 347.1H500.7V353.4H488.3zM519.3 347.1H537.9V353.4H519.3zM544.1 347.1H556.5V353.4H544.1zM599.9 347.1H606.1V353.4H599.9zM618.5 347.1H630.9V353.4H618.5zM637.1 347.1H668.1V353.4H637.1zM680.5 347.1H705.3V353.4H680.5zM779.7 347.1H804.5V353.4H779.7zM835.5 347.1H872.7V353.4H835.5zM891.3 347.1H916.1V353.4H891.3zM1083.6 347.1H1089.8V353.4H1083.6zM252.6 353.4H258.8V359.6H252.6zM265.0 353.4H277.4V359.6H265.0zM389.1 353.4H407.7V359.6H389.1zM482.1 353.4H500.7V359.6H482.1zM506.9 353.4H513.1V359.6H506.9zM531.7 353.4H544.1V359.6H531.7zM550.3 353.4H556.5V359.6H550.3zM587.5 353.4H599.9V359.6H587.5zM649.5 353.4H661.9V359.6H649.5zM668.1 353.4H674.3V359.6H668.1zM692.9 353.4H711.5V359.6H692.9zM773.5 353.4H785.9V359.6H773.5zM792.1 353.4H804.5V359.6H792.1zM810.7 353.4H816.9V359.6H810.7zM841.7 353.4H866.5V359.6H841.7zM897.5 353.4H903.7V359.6H897.5zM234.0 359.6H240.2V365.9H234.0zM258.8 359.6H271.2V365.9H258.8zM382.9 359.6H389.1V365.9H382.9zM395.3 359.6H407.7V365.9H395.3zM432.5 359.6H438.7V365.9H432.5zM519.3 359.6H531.7V365.9H519.3zM593.7 359.6H599.9V365.9H593.7zM618.5 359.6H624.7V365.9H618.5zM649.5 359.6H661.9V365.9H649.5zM674.3 359.6H686.7V365.9H674.3zM692.9 359.6H699.1V365.9H692.9zM705.3 359.6H723.9V365.9H705.3zM773.5 359.6H804.5V365.9H773.5zM835.5 359.6H847.9V365.9H835.5zM854.1 359.6H872.7V365.9H854.1zM916.1 359.6H922.3V365.9H916.1zM1021.6 359.6H1027.8V365.9H1021.6zM234.0 365.9H252.6V372.1H234.0zM258.8 365.9H283.6V372.1H258.8zM382.9 365.9H389.1V372.1H382.9zM500.7 365.9H513.1V372.1H500.7zM519.3 365.9H525.5V372.1H519.3zM599.9 365.9H606.1V372.1H599.9zM612.3 365.9H618.5V372.1H612.3zM655.7 365.9H661.9V372.1H655.7zM674.3 365.9H680.5V372.1H674.3zM699.1 365.9H705.3V372.1H699.1zM711.5 365.9H730.1V372.1H711.5zM773.5 365.9H810.7V372.1H773.5zM841.7 365.9H866.5V372.1H841.7zM934.7 365.9H940.9V372.1H934.7zM258.8 372.1H271.2V378.4H258.8zM277.4 372.1H289.8V378.4H277.4zM308.4 372.1H314.6V378.4H308.4zM382.9 372.1H389.1V378.4H382.9zM606.1 372.1H624.7V378.4H606.1zM655.7 372.1H686.7V378.4H655.7zM705.3 372.1H798.3V378.4H705.3zM1003.0 372.1H1009.2V378.4H1003.0zM252.6 378.4H271.2V384.6H252.6zM289.8 378.4H296.0V384.6H289.8zM320.8 378.4H327.0V384.6H320.8zM382.9 378.4H389.1V384.6H382.9zM612.3 378.4H637.1V384.6H612.3zM661.9 378.4H668.1V384.6H661.9zM674.3 378.4H773.5V384.6H674.3zM779.7 378.4H792.1V384.6H779.7zM835.5 378.4H841.7V384.6H835.5zM847.9 378.4H854.1V384.6H847.9zM940.9 378.4H947.1V384.6H940.9zM1009.2 378.4H1027.8V384.6H1009.2zM1071.2 378.4H1077.4V384.6H1071.2zM252.6 384.6H271.2V390.9H252.6zM283.6 384.6H308.4V390.9H283.6zM320.8 384.6H327.0V390.9H320.8zM370.5 384.6H382.9V390.9H370.5zM575.1 384.6H581.3V390.9H575.1zM593.7 384.6H612.3V390.9H593.7zM618.5 384.6H624.7V390.9H618.5zM630.9 384.6H643.3V390.9H630.9zM680.5 384.6H723.9V390.9H680.5zM730.1 384.6H767.3V390.9H730.1zM1015.4 384.6H1034.0V390.9H1015.4zM1058.8 384.6H1071.2V390.9H1058.8zM252.6 390.9H271.2V397.1H252.6zM289.8 390.9H314.6V397.1H289.8zM370.5 390.9H382.9V397.1H370.5zM395.3 390.9H407.7V397.1H395.3zM469.7 390.9H475.9V397.1H469.7zM599.9 390.9H606.1V397.1H599.9zM637.1 390.9H655.7V397.1H637.1zM674.3 390.9H692.9V397.1H674.3zM699.1 390.9H705.3V397.1H699.1zM711.5 390.9H717.7V397.1H711.5zM723.9 390.9H730.1V397.1H723.9zM1065.0 390.9H1071.2V397.1H1065.0zM265.0 397.1H289.8V403.4H265.0zM302.2 397.1H320.8V403.4H302.2zM364.3 397.1H376.7V403.4H364.3zM401.5 397.1H420.1V403.4H401.5zM513.1 397.1H519.3V403.4H513.1zM643.3 397.1H723.9V403.4H643.3zM804.5 397.1H816.9V403.4H804.5zM1003.0 397.1H1021.6V403.4H1003.0zM265.0 403.4H277.4V409.6H265.0zM283.6 403.4H289.8V409.6H283.6zM314.6 403.4H320.8V409.6H314.6zM345.7 403.4H351.9V409.6H345.7zM364.3 403.4H370.5V409.6H364.3zM376.7 403.4H382.9V409.6H376.7zM395.3 403.4H407.7V409.6H395.3zM606.1 403.4H612.3V409.6H606.1zM624.7 403.4H630.9V409.6H624.7zM637.1 403.4H643.3V409.6H637.1zM655.7 403.4H668.1V409.6H655.7zM674.3 403.4H686.7V409.6H674.3zM692.9 403.4H717.7V409.6H692.9zM252.6 409.6H283.6V415.9H252.6zM296.0 409.6H302.2V415.9H296.0zM351.9 409.6H358.1V415.9H351.9zM376.7 409.6H382.9V415.9H376.7zM389.1 409.6H395.3V415.9H389.1zM401.5 409.6H407.7V415.9H401.5zM612.3 409.6H618.5V415.9H612.3zM649.5 409.6H723.9V415.9H649.5zM196.8 415.9H203.0V422.2H196.8zM252.6 415.9H277.4V422.2H252.6zM289.8 415.9H302.2V422.2H289.8zM376.7 415.9H382.9V422.2H376.7zM401.5 415.9H407.7V422.2H401.5zM612.3 415.9H618.5V422.2H612.3zM655.7 415.9H723.9V422.2H655.7zM258.8 422.2H277.4V428.4H258.8zM289.8 422.2H302.2V428.4H289.8zM382.9 422.2H389.1V428.4H382.9zM630.9 422.2H637.1V428.4H630.9zM643.3 422.2H668.1V428.4H643.3zM674.3 422.2H705.3V428.4H674.3zM265.0 428.4H283.6V434.7H265.0zM382.9 428.4H389.1V434.7H382.9zM395.3 428.4H401.5V434.7H395.3zM420.1 428.4H426.3V434.7H420.1zM668.1 428.4H674.3V434.7H668.1zM680.5 428.4H699.1V434.7H680.5zM271.2 434.7H277.4V440.9H271.2zM283.6 434.7H289.8V440.9H283.6zM296.0 434.7H302.2V440.9H296.0zM364.3 434.7H376.7V440.9H364.3zM401.5 434.7H407.7V440.9H401.5zM420.1 434.7H432.5V440.9H420.1zM606.1 434.7H618.5V440.9H606.1zM674.3 434.7H699.1V440.9H674.3zM289.8 440.9H314.6V447.2H289.8zM327.0 440.9H345.7V447.2H327.0zM358.1 440.9H370.5V447.2H358.1zM395.3 440.9H401.5V447.2H395.3zM420.1 440.9H432.5V447.2H420.1zM463.5 440.9H475.9V447.2H463.5zM674.3 440.9H686.7V447.2H674.3zM804.5 440.9H810.7V447.2H804.5zM289.8 447.2H308.4V453.4H289.8zM327.0 447.2H333.2V453.4H327.0zM339.5 447.2H370.5V453.4H339.5zM444.9 447.2H457.3V453.4H444.9zM525.5 447.2H531.7V453.4H525.5zM568.9 447.2H599.9V453.4H568.9zM804.5 447.2H810.7V453.4H804.5zM289.8 453.4H314.6V459.7H289.8zM327.0 453.4H333.2V459.7H327.0zM345.7 453.4H370.5V459.7H345.7zM444.9 453.4H457.3V459.7H444.9zM562.7 453.4H575.1V459.7H562.7zM587.5 453.4H593.7V459.7H587.5zM289.8 459.7H339.5V465.9H289.8zM351.9 459.7H358.1V465.9H351.9zM364.3 459.7H370.5V465.9H364.3zM389.1 459.7H395.3V465.9H389.1zM488.3 459.7H500.7V465.9H488.3zM550.3 459.7H562.7V465.9H550.3zM587.5 459.7H593.7V465.9H587.5zM599.9 459.7H606.1V465.9H599.9zM618.5 459.7H624.7V465.9H618.5zM296.0 465.9H302.2V472.2H296.0zM308.4 465.9H351.9V472.2H308.4zM358.1 465.9H382.9V472.2H358.1zM389.1 465.9H395.3V472.2H389.1zM488.3 465.9H494.5V472.2H488.3zM513.1 465.9H519.3V472.2H513.1zM544.1 465.9H550.3V472.2H544.1zM556.5 465.9H575.1V472.2H556.5zM581.3 465.9H593.7V472.2H581.3zM265.0 472.2H277.4V478.5H265.0zM283.6 472.2H296.0V478.5H283.6zM327.0 472.2H345.7V478.5H327.0zM358.1 472.2H376.7V478.5H358.1zM395.3 472.2H407.7V478.5H395.3zM413.9 472.2H420.1V478.5H413.9zM457.3 472.2H463.5V478.5H457.3zM469.7 472.2H482.1V478.5H469.7zM488.3 472.2H500.7V478.5H488.3zM506.9 472.2H513.1V478.5H506.9zM575.1 472.2H581.3V478.5H575.1zM587.5 472.2H599.9V478.5H587.5zM227.8 478.5H234.0V484.7H227.8zM258.8 478.5H271.2V484.7H258.8zM277.4 478.5H296.0V484.7H277.4zM314.6 478.5H370.5V484.7H314.6zM382.9 478.5H389.1V484.7H382.9zM475.9 478.5H494.5V484.7H475.9zM500.7 478.5H513.1V484.7H500.7zM519.3 478.5H531.7V484.7H519.3zM562.7 478.5H587.5V484.7H562.7zM593.7 478.5H599.9V484.7H593.7zM606.1 478.5H612.3V484.7H606.1zM618.5 478.5H624.7V484.7H618.5zM630.9 478.5H637.1V484.7H630.9zM258.8 484.7H277.4V491.0H258.8zM283.6 484.7H302.2V491.0H283.6zM314.6 484.7H320.8V491.0H314.6zM333.2 484.7H339.5V491.0H333.2zM382.9 484.7H389.1V491.0H382.9zM469.7 484.7H475.9V491.0H469.7zM488.3 484.7H494.5V491.0H488.3zM500.7 484.7H525.5V491.0H500.7zM568.9 484.7H575.1V491.0H568.9zM581.3 484.7H587.5V491.0H581.3zM593.7 484.7H606.1V491.0H593.7zM624.7 484.7H637.1V491.0H624.7zM283.6 491.0H308.4V497.2H283.6zM314.6 491.0H327.0V497.2H314.6zM364.3 491.0H389.1V497.2H364.3zM469.7 491.0H475.9V497.2H469.7zM482.1 491.0H513.1V497.2H482.1zM519.3 491.0H537.9V497.2H519.3zM556.5 491.0H562.7V497.2H556.5zM568.9 491.0H575.1V497.2H568.9zM581.3 491.0H593.7V497.2H581.3zM630.9 491.0H637.1V497.2H630.9zM289.8 497.2H308.4V503.5H289.8zM314.6 497.2H320.8V503.5H314.6zM376.7 497.2H389.1V503.5H376.7zM451.1 497.2H457.3V503.5H451.1zM506.9 497.2H525.5V503.5H506.9zM531.7 497.2H537.9V503.5H531.7zM544.1 497.2H581.3V503.5H544.1zM587.5 497.2H606.1V503.5H587.5zM283.6 503.5H296.0V509.7H283.6zM302.2 503.5H320.8V509.7H302.2zM364.3 503.5H370.5V509.7H364.3zM376.7 503.5H389.1V509.7H376.7zM401.5 503.5H426.3V509.7H401.5zM513.1 503.5H525.5V509.7H513.1zM531.7 503.5H537.9V509.7H531.7zM556.5 503.5H568.9V509.7H556.5zM587.5 503.5H593.7V509.7H587.5zM599.9 503.5H612.3V509.7H599.9zM655.7 503.5H668.1V509.7H655.7zM723.9 503.5H730.1V509.7H723.9zM289.8 509.7H302.2V516.0H289.8zM320.8 509.7H327.0V516.0H320.8zM370.5 509.7H389.1V516.0H370.5zM407.7 509.7H420.1V516.0H407.7zM562.7 509.7H568.9V516.0H562.7zM587.5 509.7H599.9V516.0H587.5zM643.3 509.7H668.1V516.0H643.3zM370.5 516.0H389.1V522.2H370.5zM395.3 516.0H407.7V522.2H395.3zM432.5 516.0H438.7V522.2H432.5zM494.5 516.0H500.7V522.2H494.5zM544.1 516.0H562.7V522.2H544.1zM643.3 516.0H661.9V522.2H643.3zM302.2 522.2H308.4V528.5H302.2zM314.6 522.2H327.0V528.5H314.6zM333.2 522.2H339.5V528.5H333.2zM395.3 522.2H401.5V528.5H395.3zM407.7 522.2H438.7V528.5H407.7zM500.7 522.2H506.9V528.5H500.7zM556.5 522.2H562.7V528.5H556.5zM624.7 522.2H661.9V528.5H624.7zM866.5 522.2H872.7V528.5H866.5zM252.6 528.5H265.0V534.8H252.6zM289.8 528.5H302.2V534.8H289.8zM314.6 528.5H320.8V534.8H314.6zM426.3 528.5H438.7V534.8H426.3zM469.7 528.5H482.1V534.8H469.7zM494.5 528.5H513.1V534.8H494.5zM624.7 528.5H637.1V534.8H624.7zM649.5 528.5H661.9V534.8H649.5zM779.7 528.5H792.1V534.8H779.7zM854.1 528.5H860.3V534.8H854.1zM866.5 528.5H878.9V534.8H866.5zM258.8 534.8H265.0V541.0H258.8zM389.1 534.8H395.3V541.0H389.1zM444.9 534.8H451.1V541.0H444.9zM457.3 534.8H463.5V541.0H457.3zM475.9 534.8H500.7V541.0H475.9zM506.9 534.8H556.5V541.0H506.9zM587.5 534.8H661.9V541.0H587.5zM785.9 534.8H792.1V541.0H785.9zM872.7 534.8H878.9V541.0H872.7zM289.8 541.0H296.0V547.3H289.8zM302.2 541.0H308.4V547.3H302.2zM389.1 541.0H395.3V547.3H389.1zM444.9 541.0H457.3V547.3H444.9zM562.7 541.0H568.9V547.3H562.7zM575.1 541.0H649.5V547.3H575.1zM655.7 541.0H661.9V547.3H655.7zM277.4 547.3H296.0V553.5H277.4zM308.4 547.3H314.6V553.5H308.4zM382.9 547.3H401.5V553.5H382.9zM438.7 547.3H444.9V553.5H438.7zM451.1 547.3H463.5V553.5H451.1zM475.9 547.3H482.1V553.5H475.9zM587.5 547.3H649.5V553.5H587.5zM655.7 547.3H661.9V553.5H655.7zM277.4 553.5H283.6V559.8H277.4zM389.1 553.5H395.3V559.8H389.1zM413.9 553.5H420.1V559.8H413.9zM438.7 553.5H463.5V559.8H438.7zM506.9 553.5H513.1V559.8H506.9zM593.7 553.5H606.1V559.8H593.7zM612.3 553.5H649.5V559.8H612.3zM773.5 553.5H779.7V559.8H773.5zM289.8 559.8H296.0V566.0H289.8zM382.9 559.8H389.1V566.0H382.9zM420.1 559.8H426.3V566.0H420.1zM463.5 559.8H482.1V566.0H463.5zM513.1 559.8H537.9V566.0H513.1zM593.7 559.8H599.9V566.0H593.7zM630.9 559.8H655.7V566.0H630.9zM265.0 566.0H271.2V572.3H265.0zM296.0 566.0H302.2V572.3H296.0zM389.1 566.0H395.3V572.3H389.1zM413.9 566.0H420.1V572.3H413.9zM506.9 566.0H513.1V572.3H506.9zM519.3 566.0H525.5V572.3H519.3zM544.1 566.0H550.3V572.3H544.1zM785.9 566.0H792.1V572.3H785.9zM798.3 566.0H823.1V572.3H798.3zM829.3 566.0H847.9V572.3H829.3zM308.4 572.3H314.6V578.5H308.4zM413.9 572.3H420.1V578.5H413.9zM463.5 572.3H469.7V578.5H463.5zM506.9 572.3H525.5V578.5H506.9zM593.7 572.3H606.1V578.5H593.7zM860.3 572.3H866.5V578.5H860.3zM469.7 578.5H475.9V584.8H469.7zM482.1 578.5H488.3V584.8H482.1zM506.9 578.5H519.3V584.8H506.9zM860.3 578.5H872.7V584.8H860.3zM482.1 584.8H488.3V591.0H482.1zM506.9 584.8H519.3V591.0H506.9zM544.1 584.8H550.3V591.0H544.1zM860.3 584.8H866.5V591.0H860.3zM401.5 591.0H407.7V597.3H401.5zM506.9 591.0H519.3V597.3H506.9zM531.7 591.0H537.9V597.3H531.7zM488.3 597.3H506.9V603.6H488.3zM519.3 597.3H531.7V603.6H519.3zM556.5 597.3H562.7V603.6H556.5zM488.3 603.6H500.7V609.8H488.3zM506.9 603.6H519.3V609.8H506.9zM525.5 603.6H531.7V609.8H525.5zM556.5 603.6H568.9V609.8H556.5zM575.1 603.6H581.3V609.8H575.1zM488.3 609.8H506.9V616.1H488.3zM550.3 609.8H575.1V616.1H550.3zM488.3 616.1H513.1V622.3H488.3zM556.5 616.1H568.9V622.3H556.5zM488.3 622.3H506.9V628.6H488.3zM531.7 622.3H568.9V628.6H531.7zM581.3 622.3H593.7V628.6H581.3zM606.1 622.3H612.3V628.6H606.1zM500.7 628.6H506.9V634.8H500.7zM537.9 628.6H544.1V634.8H537.9zM556.5 628.6H606.1V634.8H556.5zM413.9 634.8H420.1V641.1H413.9zM500.7 634.8H506.9V641.1H500.7zM519.3 634.8H525.5V641.1H519.3zM537.9 634.8H550.3V641.1H537.9zM556.5 634.8H575.1V641.1H556.5zM581.3 634.8H587.5V641.1H581.3zM593.7 634.8H606.1V641.1H593.7zM643.3 634.8H649.5V641.1H643.3zM413.9 641.1H420.1V647.3H413.9zM500.7 641.1H506.9V647.3H500.7zM513.1 641.1H519.3V647.3H513.1zM525.5 641.1H568.9V647.3H525.5zM581.3 641.1H606.1V647.3H581.3zM643.3 641.1H649.5V647.3H643.3zM655.7 641.1H661.9V647.3H655.7zM420.1 647.3H426.3V653.6H420.1zM432.5 647.3H444.9V653.6H432.5zM494.5 647.3H506.9V653.6H494.5zM525.5 647.3H531.7V653.6H525.5zM556.5 647.3H568.9V653.6H556.5zM606.1 647.3H630.9V653.6H606.1zM680.5 647.3H692.9V653.6H680.5zM432.5 653.6H451.1V659.9H432.5zM488.3 653.6H500.7V659.9H488.3zM525.5 653.6H531.7V659.9H525.5zM593.7 653.6H606.1V659.9H593.7zM612.3 653.6H637.1V659.9H612.3zM643.3 653.6H649.5V659.9H643.3zM686.7 653.6H705.3V659.9H686.7zM426.3 659.9H451.1V666.1H426.3zM519.3 659.9H531.7V666.1H519.3zM575.1 659.9H630.9V666.1H575.1zM637.1 659.9H643.3V666.1H637.1zM686.7 659.9H692.9V666.1H686.7zM705.3 659.9H711.5V666.1H705.3zM432.5 666.1H457.3V672.4H432.5zM500.7 666.1H537.9V672.4H500.7zM568.9 666.1H624.7V672.4H568.9zM705.3 666.1H730.1V672.4H705.3zM736.3 666.1H761.1V672.4H736.3zM767.3 666.1H773.5V672.4H767.3zM438.7 672.4H444.9V678.6H438.7zM451.1 672.4H463.5V678.6H451.1zM500.7 672.4H513.1V678.6H500.7zM525.5 672.4H531.7V678.6H525.5zM568.9 672.4H624.7V678.6H568.9zM711.5 672.4H730.1V678.6H711.5zM748.7 672.4H767.3V678.6H748.7zM457.3 678.6H463.5V684.9H457.3zM488.3 678.6H494.5V684.9H488.3zM500.7 678.6H506.9V684.9H500.7zM568.9 678.6H618.5V684.9H568.9zM643.3 678.6H649.5V684.9H643.3zM457.3 684.9H469.7V691.1H457.3zM488.3 684.9H500.7V691.1H488.3zM575.1 684.9H606.1V691.1H575.1zM444.9 691.1H451.1V697.4H444.9zM457.3 691.1H463.5V697.4H457.3zM482.1 691.1H488.3V697.4H482.1zM587.5 691.1H593.7V697.4H587.5zM705.3 691.1H711.5V697.4H705.3zM475.9 697.4H482.1V703.6H475.9zM463.5 703.6H482.1V709.9H463.5zM475.9 709.9H488.3V716.1H475.9zM581.3 709.9H587.5V716.1H581.3zM581.3 716.1H587.5V722.4H581.3zM463.5 722.4H482.1V728.7H463.5zM488.3 728.7H494.5V734.9H488.3zM581.3 728.7H593.7V734.9H581.3zM575.1 734.9H581.3V741.2H575.1zM488.3 741.2H506.9V747.4H488.3zM581.3 741.2H587.5V747.4H581.3zM500.7 747.4H506.9V753.7H500.7zM587.5 747.4H593.7V753.7H587.5zM612.3 747.4H618.5V753.7H612.3zM587.5 753.7H593.7V759.9H587.5zM606.1 753.7H612.3V759.9H606.1z"/>
<path fill="#0050b0" d="M798.3 109.4H804.5V115.7H798.3zM804.5 115.7H810.7V121.9H804.5zM773.5 121.9H785.9V128.2H773.5zM761.1 128.2H767.3V134.4H761.1zM798.3 128.2H804.5V134.4H798.3zM816.9 128.2H823.1V134.4H816.9zM854.1 128.2H860.3V134.4H854.1zM761.1 134.4H767.3V140.7H761.1zM785.9 134.4H804.5V140.7H785.9zM810.7 134.4H816.9V140.7H810.7zM761.1 140.7H767.3V146.9H761.1zM779.7 140.7H785.9V146.9H779.7zM804.5 140.7H810.7V146.9H804.5zM736.3 146.9H742.5V153.2H736.3zM804.5 146.9H810.7V153.2H804.5zM730.1 153.2H748.7V159.4H730.1zM773.5 159.4H779.7V165.7H773.5zM804.5 159.4H810.7V165.7H804.5zM860.3 159.4H897.5V165.7H860.3zM798.3 165.7H829.3V172.0H798.3zM860.3 165.7H866.5V172.0H860.3zM916.1 172.0H922.3V178.2H916.1zM748.7 178.2H754.9V184.5H748.7zM810.7 178.2H816.9V184.5H810.7zM705.3 190.7H717.7V197.0H705.3zM742.5 190.7H767.3V197.0H742.5zM823.1 190.7H829.3V197.0H823.1zM761.1 197.0H767.3V203.2H761.1zM804.5 197.0H810.7V203.2H804.5zM940.9 197.0H947.1V203.2H940.9zM953.4 197.0H965.8V203.2H953.4zM978.2 197.0H990.6V203.2H978.2zM1015.4 197.0H1021.6V203.2H1015.4zM1027.8 197.0H1034.0V203.2H1027.8zM1046.4 197.0H1052.6V203.2H1046.4zM730.1 203.2H736.3V209.5H730.1zM767.3 203.2H773.5V209.5H767.3zM1046.4 203.2H1058.8V209.5H1046.4zM736.3 209.5H742.5V215.7H736.3zM767.3 209.5H779.7V215.7H767.3zM1052.6 209.5H1058.8V215.7H1052.6zM630.9 215.7H637.1V222.0H630.9zM1034.0 215.7H1040.2V222.0H1034.0zM1065.0 215.7H1083.6V222.0H1065.0zM742.5 222.0H748.7V228.3H742.5zM779.7 222.0H785.9V228.3H779.7zM1083.6 222.0H1089.8V228.3H1083.6zM773.5 228.3H779.7V234.5H773.5zM1089.8 228.3H1102.2V234.5H1089.8zM630.9 234.5H643.3V240.8H630.9zM792.1 265.8H798.3V272.0H792.1zM327.0 272.0H333.2V278.3H327.0zM618.5 272.0H624.7V278.3H618.5zM792.1 272.0H804.5V278.3H792.1zM314.6 278.3H320.8V284.6H314.6zM587.5 278.3H599.9V284.6H587.5zM606.1 278.3H612.3V284.6H606.1zM798.3 278.3H804.5V284.6H798.3zM953.4 278.3H959.6V284.6H953.4zM308.4 284.6H320.8V290.8H308.4zM606.1 284.6H618.5V290.8H606.1zM630.9 284.6H637.1V290.8H630.9zM798.3 284.6H804.5V290.8H798.3zM953.4 284.6H959.6V290.8H953.4zM965.8 284.6H972.0V290.8H965.8zM1108.4 284.6H1114.6V290.8H1108.4zM296.0 290.8H314.6V297.1H296.0zM364.3 290.8H370.5V297.1H364.3zM587.5 290.8H593.7V297.1H587.5zM785.9 290.8H792.1V297.1H785.9zM959.6 290.8H965.8V297.1H959.6zM972.0 290.8H1003.0V297.1H972.0zM1009.2 290.8H1015.4V297.1H1009.2zM1034.0 290.8H1040.2V297.1H1034.0zM314.6 297.1H320.8V303.3H314.6zM599.9 297.1H606.1V303.3H599.9zM773.5 297.1H792.1V303.3H773.5zM947.1 297.1H959.6V303.3H947.1zM965.8 297.1H972.0V303.3H965.8zM1052.6 297.1H1077.4V303.3H1052.6zM1089.8 297.1H1102.2V303.3H1089.8zM308.4 303.3H314.6V309.6H308.4zM382.9 303.3H389.1V309.6H382.9zM773.5 303.3H798.3V309.6H773.5zM947.1 303.3H953.4V309.6H947.1zM289.8 309.6H296.0V315.8H289.8zM779.7 309.6H798.3V315.8H779.7zM947.1 309.6H959.6V315.8H947.1zM965.8 309.6H990.6V315.8H965.8zM996.8 309.6H1003.0V315.8H996.8zM277.4 315.8H289.8V322.1H277.4zM785.9 315.8H792.1V322.1H785.9zM798.3 315.8H823.1V322.1H798.3zM922.3 315.8H928.5V322.1H922.3zM953.4 315.8H965.8V322.1H953.4zM984.4 315.8H990.6V322.1H984.4zM1003.0 315.8H1015.4V322.1H1003.0zM289.8 322.1H302.2V328.3H289.8zM779.7 322.1H804.5V328.3H779.7zM816.9 322.1H823.1V328.3H816.9zM922.3 322.1H928.5V328.3H922.3zM947.1 322.1H953.4V328.3H947.1zM562.7 328.3H568.9V334.6H562.7zM823.1 328.3H829.3V334.6H823.1zM258.8 334.6H271.2V340.8H258.8zM296.0 334.6H302.2V340.8H296.0zM389.1 334.6H395.3V340.8H389.1zM544.1 334.6H550.3V340.8H544.1zM612.3 334.6H618.5V340.8H612.3zM823.1 334.6H841.7V340.8H823.1zM903.7 334.6H909.9V340.8H903.7zM258.8 340.8H265.0V347.1H258.8zM296.0 340.8H302.2V347.1H296.0zM376.7 340.8H382.9V347.1H376.7zM401.5 340.8H407.7V347.1H401.5zM612.3 340.8H618.5V347.1H612.3zM841.7 340.8H854.1V347.1H841.7zM860.3 340.8H866.5V347.1H860.3zM482.1 347.1H488.3V353.4H482.1zM630.9 347.1H637.1V353.4H630.9zM668.1 347.1H680.5V353.4H668.1zM240.2 353.4H252.6V359.6H240.2zM302.2 353.4H308.4V359.6H302.2zM382.9 353.4H389.1V359.6H382.9zM500.7 353.4H506.9V359.6H500.7zM544.1 353.4H550.3V359.6H544.1zM618.5 353.4H624.7V359.6H618.5zM661.9 353.4H668.1V359.6H661.9zM674.3 353.4H692.9V359.6H674.3zM785.9 353.4H792.1V359.6H785.9zM804.5 353.4H810.7V359.6H804.5zM271.2 359.6H308.4V365.9H271.2zM668.1 359.6H674.3V365.9H668.1zM686.7 359.6H692.9V365.9H686.7zM847.9 359.6H854.1V365.9H847.9zM513.1 365.9H519.3V372.1H513.1zM643.3 365.9H655.7V372.1H643.3zM661.9 365.9H674.3V372.1H661.9zM680.5 365.9H686.7V372.1H680.5zM692.9 365.9H699.1V372.1H692.9zM314.6 372.1H327.0V378.4H314.6zM624.7 372.1H637.1V378.4H624.7zM686.7 372.1H692.9V378.4H686.7zM271.2 378.4H283.6V384.6H271.2zM308.4 378.4H320.8V384.6H308.4zM575.1 378.4H581.3V384.6H575.1zM637.1 378.4H643.3V384.6H637.1zM668.1 378.4H674.3V384.6H668.1zM841.7 378.4H847.9V384.6H841.7zM271.2 384.6H283.6V390.9H271.2zM568.9 384.6H575.1V390.9H568.9zM674.3 384.6H680.5V390.9H674.3zM283.6 390.9H289.8V397.1H283.6zM655.7 390.9H661.9V397.1H655.7zM692.9 390.9H699.1V397.1H692.9zM705.3 390.9H711.5V397.1H705.3zM717.7 390.9H723.9V397.1H717.7zM395.3 397.1H401.5V403.4H395.3zM302.2 403.4H314.6V409.6H302.2zM351.9 403.4H364.3V409.6H351.9zM370.5 403.4H376.7V409.6H370.5zM612.3 403.4H618.5V409.6H612.3zM643.3 403.4H655.7V409.6H643.3zM668.1 403.4H674.3V409.6H668.1zM686.7 403.4H692.9V409.6H686.7zM333.2 409.6H345.7V415.9H333.2zM395.3 409.6H401.5V415.9H395.3zM327.0 415.9H339.5V422.2H327.0zM351.9 415.9H358.1V422.2H351.9zM302.2 422.2H314.6V428.4H302.2zM320.8 422.2H351.9V428.4H320.8zM395.3 422.2H401.5V428.4H395.3zM668.1 422.2H674.3V428.4H668.1zM289.8 428.4H339.5V434.7H289.8zM364.3 428.4H370.5V434.7H364.3zM674.3 428.4H680.5V434.7H674.3zM289.8 434.7H296.0V440.9H289.8zM302.2 434.7H320.8V440.9H302.2zM333.2 434.7H364.3V440.9H333.2zM395.3 434.7H401.5V440.9H395.3zM283.6 440.9H289.8V447.2H283.6zM314.6 440.9H327.0V447.2H314.6zM345.7 440.9H358.1V447.2H345.7zM389.1 440.9H395.3V447.2H389.1zM283.6 447.2H289.8V453.4H283.6zM314.6 447.2H327.0V453.4H314.6zM283.6 453.4H289.8V459.7H283.6zM320.8 453.4H327.0V459.7H320.8zM593.7 459.7H599.9V465.9H593.7zM494.5 465.9H500.7V472.2H494.5zM550.3 465.9H556.5V472.2H550.3zM593.7 465.9H606.1V472.2H593.7zM618.5 465.9H624.7V472.2H618.5zM308.4 472.2H314.6V478.5H308.4zM320.8 472.2H327.0V478.5H320.8zM345.7 472.2H351.9V478.5H345.7zM376.7 472.2H389.1V478.5H376.7zM500.7 472.2H506.9V478.5H500.7zM568.9 472.2H575.1V478.5H568.9zM599.9 472.2H606.1V478.5H599.9zM302.2 478.5H314.6V484.7H302.2zM370.5 478.5H376.7V484.7H370.5zM550.3 478.5H562.7V484.7H550.3zM599.9 478.5H606.1V484.7H599.9zM277.4 484.7H283.6V491.0H277.4zM302.2 484.7H314.6V491.0H302.2zM364.3 484.7H376.7V491.0H364.3zM475.9 484.7H488.3V491.0H475.9zM494.5 484.7H500.7V491.0H494.5zM575.1 484.7H581.3V491.0H575.1zM606.1 484.7H612.3V491.0H606.1zM537.9 491.0H544.1V497.2H537.9zM562.7 491.0H568.9V497.2H562.7zM575.1 491.0H581.3V497.2H575.1zM599.9 491.0H612.3V497.2H599.9zM537.9 497.2H544.1V503.5H537.9zM581.3 497.2H587.5V503.5H581.3zM494.5 503.5H500.7V509.7H494.5zM550.3 503.5H556.5V509.7H550.3zM581.3 503.5H587.5V509.7H581.3zM494.5 509.7H506.9V516.0H494.5zM500.7 516.0H506.9V522.2H500.7zM401.5 522.2H407.7V528.5H401.5zM395.3 528.5H401.5V534.8H395.3zM413.9 528.5H420.1V534.8H413.9zM438.7 528.5H444.9V534.8H438.7zM482.1 528.5H494.5V534.8H482.1zM637.1 528.5H649.5V534.8H637.1zM289.8 534.8H296.0V541.0H289.8zM308.4 541.0H314.6V547.3H308.4zM382.9 541.0H389.1V547.3H382.9zM395.3 541.0H401.5V547.3H395.3zM438.7 541.0H444.9V547.3H438.7zM568.9 541.0H575.1V547.3H568.9zM649.5 541.0H655.7V547.3H649.5zM649.5 547.3H655.7V553.5H649.5zM265.0 553.5H271.2V559.8H265.0zM296.0 553.5H302.2V559.8H296.0zM432.5 553.5H438.7V559.8H432.5zM606.1 553.5H612.3V559.8H606.1zM649.5 553.5H655.7V559.8H649.5zM277.4 559.8H283.6V566.0H277.4zM302.2 559.8H308.4V566.0H302.2zM271.2 566.0H277.4V572.3H271.2zM463.5 566.0H469.7V572.3H463.5zM513.1 566.0H519.3V572.3H513.1zM302.2 572.3H308.4V578.5H302.2zM426.3 572.3H438.7V578.5H426.3zM420.1 578.5H438.7V584.8H420.1zM463.5 578.5H469.7V584.8H463.5zM482.1 591.0H488.3V597.3H482.1zM401.5 597.3H407.7V603.6H401.5zM420.1 597.3H426.3V603.6H420.1zM401.5 603.6H407.7V609.8H401.5zM413.9 603.6H420.1V609.8H413.9zM575.1 609.8H581.3V616.1H575.1zM655.7 622.3H668.1V628.6H655.7zM525.5 628.6H537.9V634.8H525.5zM550.3 628.6H556.5V634.8H550.3zM686.7 628.6H692.9V634.8H686.7zM494.5 634.8H500.7V641.1H494.5zM525.5 634.8H537.9V641.1H525.5zM550.3 634.8H556.5V641.1H550.3zM587.5 634.8H593.7V641.1H587.5zM649.5 641.1H655.7V647.3H649.5zM506.9 647.3H513.1V653.6H506.9zM606.1 653.6H612.3V659.9H606.1zM562.7 659.9H568.9V666.1H562.7zM692.9 659.9H705.3V666.1H692.9zM736.3 659.9H748.7V666.1H736.3zM692.9 666.1H705.3V672.4H692.9zM730.1 666.1H736.3V672.4H730.1zM730.1 672.4H736.3V678.6H730.1zM742.5 672.4H748.7V678.6H742.5zM494.5 678.6H500.7V684.9H494.5zM463.5 691.1H469.7V697.4H463.5zM494.5 728.7H500.7V734.9H494.5zM575.1 728.7H581.3V734.9H575.1zM488.3 734.9H500.7V741.2H488.3zM593.7 747.4H599.9V753.7H593.7z"/>
<path fill="#007098" d="M773.5 128.2H785.9V134.4H773.5zM779.7 134.4H785.9V140.7H779.7zM785.9 140.7H804.5V146.9H785.9zM742.5 146.9H754.9V153.2H742.5zM773.5 153.2H779.7V159.4H773.5zM785.9 153.2H798.3V159.4H785.9zM761.1 159.4H767.3V165.7H761.1zM773.5 165.7H785.9V172.0H773.5zM841.7 165.7H854.1V172.0H841.7zM909.9 165.7H916.1V172.0H909.9zM754.9 172.0H761.1V178.2H754.9zM785.9 172.0H798.3V178.2H785.9zM810.7 172.0H829.3V178.2H810.7zM891.3 172.0H897.5V178.2H891.3zM792.1 178.2H798.3V184.5H792.1zM897.5 178.2H903.7V184.5H897.5zM705.3 184.5H711.5V190.7H705.3zM748.7 184.5H754.9V190.7H748.7zM779.7 184.5H785.9V190.7H779.7zM798.3 184.5H804.5V190.7H798.3zM835.5 184.5H841.7V190.7H835.5zM916.1 184.5H922.3V190.7H916.1zM723.9 190.7H730.1V197.0H723.9zM736.3 190.7H742.5V197.0H736.3zM816.9 190.7H823.1V197.0H816.9zM829.3 190.7H835.5V197.0H829.3zM916.1 190.7H922.3V197.0H916.1zM717.7 197.0H736.3V203.2H717.7zM748.7 197.0H754.9V203.2H748.7zM810.7 197.0H816.9V203.2H810.7zM965.8 197.0H978.2V203.2H965.8zM773.5 203.2H779.7V209.5H773.5zM953.4 203.2H959.6V209.5H953.4zM1003.0 203.2H1009.2V209.5H1003.0zM1015.4 203.2H1021.6V209.5H1015.4zM1034.0 203.2H1046.4V209.5H1034.0zM779.7 209.5H792.1V215.7H779.7zM1034.0 209.5H1052.6V215.7H1034.0zM723.9 215.7H730.1V222.0H723.9zM742.5 215.7H748.7V222.0H742.5zM779.7 215.7H785.9V222.0H779.7zM1040.2 215.7H1046.4V222.0H1040.2zM717.7 222.0H730.1V228.3H717.7zM1034.0 222.0H1046.4V228.3H1034.0zM773.5 234.5H779.7V240.8H773.5zM1102.2 240.8H1108.4V247.0H1102.2zM785.9 259.5H792.1V265.8H785.9zM785.9 265.8H792.1V272.0H785.9zM333.2 272.0H345.7V278.3H333.2zM618.5 278.3H624.7V284.6H618.5zM959.6 278.3H965.8V284.6H959.6zM351.9 284.6H364.3V290.8H351.9zM624.7 284.6H630.9V290.8H624.7zM947.1 284.6H953.4V290.8H947.1zM978.2 284.6H984.4V290.8H978.2zM314.6 290.8H320.8V297.1H314.6zM618.5 290.8H624.7V297.1H618.5zM872.7 290.8H878.9V297.1H872.7zM940.9 290.8H947.1V297.1H940.9zM1015.4 290.8H1034.0V297.1H1015.4zM1102.2 290.8H1108.4V297.1H1102.2zM376.7 297.1H382.9V303.3H376.7zM792.1 297.1H798.3V303.3H792.1zM909.9 297.1H916.1V303.3H909.9zM1077.4 297.1H1089.8V303.3H1077.4zM389.1 303.3H395.3V309.6H389.1zM903.7 303.3H916.1V309.6H903.7zM370.5 309.6H376.7V315.8H370.5zM798.3 309.6H816.9V315.8H798.3zM959.6 309.6H965.8V315.8H959.6zM990.6 309.6H996.8V315.8H990.6zM302.2 315.8H308.4V322.1H302.2zM376.7 315.8H382.9V322.1H376.7zM792.1 315.8H798.3V322.1H792.1zM965.8 315.8H978.2V322.1H965.8zM376.7 322.1H382.9V328.3H376.7zM823.1 322.1H829.3V328.3H823.1zM835.5 322.1H841.7V328.3H835.5zM940.9 322.1H947.1V328.3H940.9zM996.8 322.1H1003.0V328.3H996.8zM376.7 328.3H382.9V334.6H376.7zM891.3 328.3H922.3V334.6H891.3zM376.7 334.6H382.9V340.8H376.7zM841.7 334.6H847.9V340.8H841.7zM854.1 340.8H860.3V347.1H854.1zM866.5 340.8H872.7V347.1H866.5zM289.8 347.1H296.0V353.4H289.8zM302.2 347.1H308.4V353.4H302.2zM289.8 353.4H296.0V359.6H289.8zM643.3 353.4H649.5V359.6H643.3zM252.6 359.6H258.8V365.9H252.6zM606.1 365.9H612.3V372.1H606.1zM686.7 365.9H692.9V372.1H686.7zM692.9 372.1H705.3V378.4H692.9zM283.6 378.4H289.8V384.6H283.6zM327.0 378.4H333.2V384.6H327.0zM376.7 378.4H382.9V384.6H376.7zM308.4 384.6H314.6V390.9H308.4zM327.0 384.6H333.2V390.9H327.0zM643.3 384.6H649.5V390.9H643.3zM655.7 384.6H674.3V390.9H655.7zM271.2 390.9H283.6V397.1H271.2zM314.6 390.9H320.8V397.1H314.6zM661.9 390.9H674.3V397.1H661.9zM320.8 397.1H327.0V403.4H320.8zM320.8 403.4H327.0V409.6H320.8zM333.2 403.4H345.7V409.6H333.2zM407.7 403.4H413.9V409.6H407.7zM302.2 409.6H327.0V415.9H302.2zM302.2 415.9H314.6V422.2H302.2zM320.8 415.9H327.0V422.2H320.8zM339.5 415.9H351.9V422.2H339.5zM395.3 415.9H401.5V422.2H395.3zM314.6 422.2H320.8V428.4H314.6zM351.9 422.2H358.1V428.4H351.9zM358.1 428.4H364.3V434.7H358.1zM320.8 434.7H333.2V440.9H320.8zM389.1 434.7H395.3V440.9H389.1zM277.4 440.9H283.6V447.2H277.4zM308.4 447.2H314.6V453.4H308.4zM314.6 453.4H320.8V459.7H314.6zM283.6 459.7H289.8V465.9H283.6zM289.8 465.9H296.0V472.2H289.8zM302.2 465.9H308.4V472.2H302.2zM606.1 465.9H618.5V472.2H606.1zM296.0 472.2H302.2V478.5H296.0zM351.9 472.2H358.1V478.5H351.9zM550.3 472.2H568.9V478.5H550.3zM630.9 472.2H637.1V478.5H630.9zM296.0 478.5H302.2V484.7H296.0zM376.7 478.5H382.9V484.7H376.7zM469.7 478.5H475.9V484.7H469.7zM624.7 478.5H630.9V484.7H624.7zM376.7 484.7H382.9V491.0H376.7zM612.3 484.7H618.5V491.0H612.3zM513.1 491.0H519.3V497.2H513.1zM593.7 491.0H599.9V497.2H593.7zM283.6 497.2H289.8V503.5H283.6zM308.4 497.2H314.6V503.5H308.4zM364.3 497.2H376.7V503.5H364.3zM370.5 503.5H376.7V509.7H370.5zM537.9 503.5H550.3V509.7H537.9zM401.5 528.5H413.9V534.8H401.5zM395.3 534.8H401.5V541.0H395.3zM432.5 534.8H444.9V541.0H432.5zM296.0 541.0H302.2V547.3H296.0zM432.5 541.0H438.7V547.3H432.5zM296.0 547.3H308.4V553.5H296.0zM581.3 547.3H587.5V553.5H581.3zM302.2 553.5H308.4V559.8H302.2zM420.1 553.5H432.5V559.8H420.1zM265.0 559.8H277.4V566.0H265.0zM389.1 559.8H395.3V566.0H389.1zM432.5 559.8H444.9V566.0H432.5zM457.3 559.8H463.5V566.0H457.3zM302.2 566.0H308.4V572.3H302.2zM407.7 566.0H413.9V572.3H407.7zM593.7 566.0H599.9V572.3H593.7zM395.3 572.3H401.5V578.5H395.3zM457.3 572.3H463.5V578.5H457.3zM407.7 584.8H413.9V591.0H407.7zM469.7 584.8H475.9V591.0H469.7zM413.9 597.3H420.1V603.6H413.9zM426.3 597.3H432.5V603.6H426.3zM506.9 597.3H519.3V603.6H506.9zM420.1 603.6H432.5V609.8H420.1zM500.7 603.6H506.9V609.8H500.7zM401.5 609.8H407.7V616.1H401.5zM413.9 609.8H420.1V616.1H413.9zM401.5 616.1H413.9V622.3H401.5zM420.1 616.1H426.3V622.3H420.1zM482.1 616.1H488.3V622.3H482.1zM544.1 616.1H556.5V622.3H544.1zM544.1 628.6H550.3V634.8H544.1zM575.1 634.8H581.3V641.1H575.1zM494.5 641.1H500.7V647.3H494.5zM519.3 641.1H525.5V647.3H519.3zM568.9 641.1H575.1V647.3H568.9zM513.1 647.3H525.5V653.6H513.1zM500.7 653.6H513.1V659.9H500.7zM519.3 653.6H525.5V659.9H519.3zM736.3 672.4H742.5V678.6H736.3zM463.5 678.6H469.7V684.9H463.5zM482.1 684.9H488.3V691.1H482.1zM475.9 691.1H482.1V697.4H475.9zM463.5 697.4H469.7V703.6H463.5zM593.7 734.9H599.9V741.2H593.7zM606.1 741.2H612.3V747.4H606.1z"/>
<path fill="#00a010" d="M767.3 134.4H779.7V140.7H767.3zM816.9 134.4H823.1V140.7H816.9zM767.3 140.7H779.7V146.9H767.3zM810.7 140.7H816.9V146.9H810.7zM754.9 146.9H767.3V153.2H754.9zM792.1 146.9H804.5V153.2H792.1zM810.7 146.9H816.9V153.2H810.7zM748.7 153.2H773.5V159.4H748.7zM736.3 159.4H761.1V165.7H736.3zM767.3 159.4H773.5V165.7H767.3zM798.3 159.4H804.5V165.7H798.3zM761.1 165.7H773.5V172.0H761.1zM878.9 165.7H885.1V172.0H878.9zM891.3 165.7H903.7V172.0H891.3zM748.7 172.0H754.9V178.2H748.7zM761.1 172.0H767.3V178.2H761.1zM798.3 172.0H804.5V178.2H798.3zM854.1 172.0H860.3V178.2H854.1zM878.9 172.0H891.3V178.2H878.9zM897.5 172.0H903.7V178.2H897.5zM909.9 172.0H916.1V178.2H909.9zM754.9 178.2H761.1V184.5H754.9zM785.9 178.2H792.1V184.5H785.9zM798.3 178.2H810.7V184.5H798.3zM816.9 178.2H829.3V184.5H816.9zM835.5 178.2H847.9V184.5H835.5zM854.1 178.2H860.3V184.5H854.1zM891.3 178.2H897.5V184.5H891.3zM916.1 178.2H922.3V184.5H916.1zM711.5 184.5H717.7V190.7H711.5zM742.5 184.5H748.7V190.7H742.5zM754.9 184.5H767.3V190.7H754.9zM773.5 184.5H779.7V190.7H773.5zM785.9 184.5H798.3V190.7H785.9zM810.7 184.5H823.1V190.7H810.7zM903.7 184.5H909.9V190.7H903.7zM767.3 190.7H773.5V197.0H767.3zM804.5 190.7H816.9V197.0H804.5zM835.5 190.7H847.9V197.0H835.5zM767.3 197.0H785.9V203.2H767.3zM792.1 197.0H804.5V203.2H792.1zM829.3 197.0H835.5V203.2H829.3zM922.3 197.0H940.9V203.2H922.3zM779.7 203.2H785.9V209.5H779.7zM940.9 203.2H953.4V209.5H940.9zM959.6 203.2H965.8V209.5H959.6zM984.4 203.2H1003.0V209.5H984.4zM1009.2 203.2H1015.4V209.5H1009.2zM1021.6 203.2H1027.8V209.5H1021.6zM785.9 215.7H792.1V222.0H785.9zM1027.8 215.7H1034.0V222.0H1027.8zM1046.4 215.7H1052.6V222.0H1046.4zM1058.8 215.7H1065.0V222.0H1058.8zM624.7 222.0H630.9V228.3H624.7zM730.1 222.0H742.5V228.3H730.1zM785.9 222.0H792.1V228.3H785.9zM1027.8 222.0H1034.0V228.3H1027.8zM1065.0 222.0H1083.6V228.3H1065.0zM779.7 228.3H792.1V234.5H779.7zM990.6 228.3H1009.2V234.5H990.6zM1021.6 228.3H1027.8V234.5H1021.6zM1040.2 228.3H1046.4V234.5H1040.2zM779.7 234.5H785.9V240.8H779.7zM990.6 234.5H1009.2V240.8H990.6zM1096.0 234.5H1102.2V240.8H1096.0zM779.7 240.8H785.9V247.0H779.7zM779.7 247.0H785.9V253.3H779.7zM779.7 253.3H785.9V259.5H779.7zM897.5 253.3H903.7V259.5H897.5zM792.1 259.5H798.3V265.8H792.1zM1108.4 259.5H1114.6V265.8H1108.4zM798.3 265.8H804.5V272.0H798.3zM1102.2 265.8H1108.4V272.0H1102.2zM804.5 272.0H816.9V278.3H804.5zM934.7 272.0H947.1V278.3H934.7zM953.4 272.0H972.0V278.3H953.4zM1108.4 272.0H1114.6V278.3H1108.4zM320.8 278.3H327.0V284.6H320.8zM804.5 278.3H823.1V284.6H804.5zM922.3 278.3H928.5V284.6H922.3zM940.9 278.3H953.4V284.6H940.9zM965.8 278.3H978.2V284.6H965.8zM320.8 284.6H327.0V290.8H320.8zM618.5 284.6H624.7V290.8H618.5zM804.5 284.6H816.9V290.8H804.5zM940.9 284.6H947.1V290.8H940.9zM972.0 284.6H978.2V290.8H972.0zM984.4 284.6H996.8V290.8H984.4zM1003.0 284.6H1015.4V290.8H1003.0zM1102.2 284.6H1108.4V290.8H1102.2zM320.8 290.8H327.0V297.1H320.8zM624.7 290.8H630.9V297.1H624.7zM792.1 290.8H816.9V297.1H792.1zM922.3 290.8H928.5V297.1H922.3zM1040.2 290.8H1052.6V297.1H1040.2zM1058.8 290.8H1065.0V297.1H1058.8zM370.5 297.1H376.7V303.3H370.5zM798.3 297.1H823.1V303.3H798.3zM903.7 297.1H909.9V303.3H903.7zM940.9 297.1H947.1V303.3H940.9zM959.6 297.1H965.8V303.3H959.6zM314.6 303.3H320.8V309.6H314.6zM370.5 303.3H376.7V309.6H370.5zM798.3 303.3H829.3V309.6H798.3zM891.3 303.3H903.7V309.6H891.3zM916.1 303.3H928.5V309.6H916.1zM940.9 303.3H947.1V309.6H940.9zM308.4 309.6H327.0V315.8H308.4zM364.3 309.6H370.5V315.8H364.3zM816.9 309.6H835.5V315.8H816.9zM922.3 309.6H928.5V315.8H922.3zM823.1 315.8H841.7V322.1H823.1zM916.1 315.8H922.3V322.1H916.1zM928.5 315.8H934.7V322.1H928.5zM947.1 315.8H953.4V322.1H947.1zM978.2 315.8H984.4V322.1H978.2zM990.6 315.8H1003.0V322.1H990.6zM370.5 322.1H376.7V328.3H370.5zM829.3 322.1H835.5V328.3H829.3zM841.7 322.1H847.9V328.3H841.7zM916.1 322.1H922.3V328.3H916.1zM934.7 322.1H940.9V328.3H934.7zM296.0 328.3H302.2V334.6H296.0zM370.5 328.3H376.7V334.6H370.5zM829.3 328.3H847.9V334.6H829.3zM872.7 328.3H878.9V334.6H872.7zM847.9 334.6H854.1V340.8H847.9zM866.5 334.6H885.1V340.8H866.5zM370.5 340.8H376.7V347.1H370.5zM872.7 340.8H885.1V347.1H872.7zM296.0 347.1H302.2V353.4H296.0zM308.4 347.1H314.6V353.4H308.4zM376.7 347.1H382.9V353.4H376.7zM612.3 347.1H618.5V353.4H612.3zM296.0 353.4H302.2V359.6H296.0zM308.4 353.4H320.8V359.6H308.4zM376.7 353.4H382.9V359.6H376.7zM599.9 353.4H606.1V359.6H599.9zM612.3 353.4H618.5V359.6H612.3zM240.2 359.6H252.6V365.9H240.2zM308.4 359.6H314.6V365.9H308.4zM376.7 359.6H382.9V365.9H376.7zM599.9 359.6H618.5V365.9H599.9zM643.3 359.6H649.5V365.9H643.3zM320.8 365.9H327.0V372.1H320.8zM376.7 365.9H382.9V372.1H376.7zM618.5 365.9H624.7V372.1H618.5zM327.0 372.1H333.2V378.4H327.0zM376.7 372.1H382.9V378.4H376.7zM637.1 372.1H655.7V378.4H637.1zM333.2 378.4H339.5V384.6H333.2zM643.3 378.4H649.5V384.6H643.3zM314.6 384.6H320.8V390.9H314.6zM333.2 384.6H345.7V390.9H333.2zM364.3 384.6H370.5V390.9H364.3zM320.8 390.9H333.2V397.1H320.8zM327.0 397.1H358.1V403.4H327.0zM327.0 409.6H333.2V415.9H327.0zM345.7 409.6H351.9V415.9H345.7zM358.1 409.6H364.3V415.9H358.1zM370.5 409.6H376.7V415.9H370.5zM314.6 415.9H320.8V422.2H314.6zM358.1 415.9H370.5V422.2H358.1zM389.1 415.9H395.3V422.2H389.1zM358.1 422.2H370.5V428.4H358.1zM370.5 428.4H376.7V434.7H370.5zM283.6 465.9H289.8V472.2H283.6zM351.9 465.9H358.1V472.2H351.9zM624.7 465.9H637.1V472.2H624.7zM302.2 472.2H308.4V478.5H302.2zM314.6 472.2H320.8V478.5H314.6zM618.5 472.2H624.7V478.5H618.5zM296.0 534.8H302.2V541.0H296.0zM413.9 547.3H420.1V553.5H413.9zM426.3 547.3H438.7V553.5H426.3zM426.3 559.8H432.5V566.0H426.3zM444.9 559.8H457.3V566.0H444.9zM395.3 566.0H401.5V572.3H395.3zM426.3 566.0H438.7V572.3H426.3zM444.9 566.0H463.5V572.3H444.9zM401.5 572.3H413.9V578.5H401.5zM451.1 572.3H457.3V578.5H451.1zM451.1 578.5H463.5V584.8H451.1zM475.9 578.5H482.1V584.8H475.9zM420.1 584.8H438.7V591.0H420.1zM457.3 584.8H469.7V591.0H457.3zM426.3 591.0H432.5V597.3H426.3zM432.5 603.6H438.7V609.8H432.5zM475.9 609.8H482.1V616.1H475.9zM413.9 616.1H420.1V622.3H413.9zM475.9 616.1H482.1V622.3H475.9zM407.7 628.6H413.9V634.8H407.7zM494.5 628.6H500.7V634.8H494.5zM420.1 634.8H426.3V641.1H420.1zM420.1 641.1H426.3V647.3H420.1zM432.5 641.1H444.9V647.3H432.5zM506.9 641.1H513.1V647.3H506.9zM426.3 647.3H432.5V653.6H426.3zM444.9 647.3H451.1V653.6H444.9zM488.3 647.3H494.5V653.6H488.3zM426.3 653.6H432.5V659.9H426.3zM482.1 653.6H488.3V659.9H482.1zM513.1 653.6H519.3V659.9H513.1zM451.1 659.9H457.3V666.1H451.1zM488.3 659.9H506.9V666.1H488.3zM513.1 659.9H519.3V666.1H513.1zM494.5 666.1H500.7V672.4H494.5zM482.1 672.4H500.7V678.6H482.1zM469.7 678.6H475.9V684.9H469.7zM482.1 678.6H488.3V684.9H482.1zM469.7 684.9H475.9V691.1H469.7zM469.7 697.4H475.9V703.6H469.7zM581.3 734.9H587.5V741.2H581.3zM587.5 741.2H606.1V747.4H587.5zM606.1 747.4H612.3V753.7H606.1z"/>
<path fill="#00c810" d="M823.1 134.4H829.3V140.7H823.1zM773.5 146.9H779.7V153.2H773.5zM723.9 159.4H736.3V165.7H723.9zM742.5 165.7H748.7V172.0H742.5zM754.9 165.7H761.1V172.0H754.9zM872.7 165.7H878.9V172.0H872.7zM903.7 165.7H909.9V172.0H903.7zM742.5 172.0H748.7V178.2H742.5zM767.3 172.0H785.9V178.2H767.3zM841.7 172.0H847.9V178.2H841.7zM903.7 172.0H909.9V178.2H903.7zM711.5 178.2H717.7V184.5H711.5zM761.1 178.2H767.3V184.5H761.1zM773.5 178.2H785.9V184.5H773.5zM847.9 178.2H854.1V184.5H847.9zM903.7 178.2H916.1V184.5H903.7zM723.9 184.5H742.5V190.7H723.9zM767.3 184.5H773.5V190.7H767.3zM804.5 184.5H810.7V190.7H804.5zM841.7 184.5H847.9V190.7H841.7zM909.9 184.5H916.1V190.7H909.9zM717.7 190.7H723.9V197.0H717.7zM730.1 190.7H736.3V197.0H730.1zM773.5 190.7H804.5V197.0H773.5zM909.9 190.7H916.1V197.0H909.9zM816.9 197.0H829.3V203.2H816.9zM916.1 197.0H922.3V203.2H916.1zM785.9 203.2H792.1V209.5H785.9zM798.3 203.2H816.9V209.5H798.3zM934.7 203.2H940.9V209.5H934.7zM965.8 203.2H984.4V209.5H965.8zM1027.8 203.2H1034.0V209.5H1027.8zM953.4 209.5H965.8V215.7H953.4zM996.8 209.5H1003.0V215.7H996.8zM1027.8 209.5H1034.0V215.7H1027.8zM792.1 215.7H798.3V222.0H792.1zM1052.6 215.7H1058.8V222.0H1052.6zM630.9 222.0H637.1V228.3H630.9zM792.1 222.0H798.3V228.3H792.1zM1021.6 222.0H1027.8V228.3H1021.6zM903.7 228.3H909.9V234.5H903.7zM984.4 228.3H990.6V234.5H984.4zM1027.8 228.3H1040.2V234.5H1027.8zM1071.2 228.3H1089.8V234.5H1071.2zM785.9 234.5H792.1V240.8H785.9zM953.4 234.5H959.6V240.8H953.4zM965.8 234.5H972.0V240.8H965.8zM978.2 234.5H984.4V240.8H978.2zM1034.0 234.5H1040.2V240.8H1034.0zM891.3 240.8H897.5V247.0H891.3zM1034.0 240.8H1040.2V247.0H1034.0zM1102.2 247.0H1108.4V253.3H1102.2zM785.9 253.3H792.1V259.5H785.9zM903.7 253.3H909.9V259.5H903.7zM1102.2 253.3H1108.4V259.5H1102.2zM885.1 259.5H891.3V265.8H885.1zM903.7 259.5H909.9V265.8H903.7zM1102.2 259.5H1108.4V265.8H1102.2zM804.5 265.8H810.7V272.0H804.5zM897.5 265.8H909.9V272.0H897.5zM947.1 265.8H972.0V272.0H947.1zM1108.4 265.8H1114.6V272.0H1108.4zM816.9 272.0H823.1V278.3H816.9zM947.1 272.0H953.4V278.3H947.1zM972.0 272.0H978.2V278.3H972.0zM1102.2 272.0H1108.4V278.3H1102.2zM327.0 278.3H339.5V284.6H327.0zM351.9 278.3H358.1V284.6H351.9zM612.3 278.3H618.5V284.6H612.3zM823.1 278.3H829.3V284.6H823.1zM928.5 278.3H940.9V284.6H928.5zM978.2 278.3H984.4V284.6H978.2zM1102.2 278.3H1120.8V284.6H1102.2zM339.5 284.6H345.7V290.8H339.5zM816.9 284.6H823.1V290.8H816.9zM866.5 284.6H872.7V290.8H866.5zM916.1 284.6H934.7V290.8H916.1zM996.8 284.6H1003.0V290.8H996.8zM1021.6 284.6H1027.8V290.8H1021.6zM519.3 290.8H525.5V297.1H519.3zM816.9 290.8H829.3V297.1H816.9zM866.5 290.8H872.7V297.1H866.5zM878.9 290.8H885.1V297.1H878.9zM909.9 290.8H916.1V297.1H909.9zM928.5 290.8H940.9V297.1H928.5zM1052.6 290.8H1058.8V297.1H1052.6zM1065.0 290.8H1077.4V297.1H1065.0zM1083.6 290.8H1102.2V297.1H1083.6zM364.3 297.1H370.5V303.3H364.3zM823.1 297.1H829.3V303.3H823.1zM854.1 297.1H860.3V303.3H854.1zM872.7 297.1H878.9V303.3H872.7zM916.1 297.1H934.7V303.3H916.1zM364.3 303.3H370.5V309.6H364.3zM376.7 303.3H382.9V309.6H376.7zM829.3 303.3H835.5V309.6H829.3zM358.1 309.6H364.3V315.8H358.1zM376.7 309.6H382.9V315.8H376.7zM835.5 309.6H841.7V315.8H835.5zM891.3 309.6H897.5V315.8H891.3zM909.9 309.6H922.3V315.8H909.9zM940.9 309.6H947.1V315.8H940.9zM320.8 315.8H327.0V322.1H320.8zM351.9 315.8H376.7V322.1H351.9zM841.7 315.8H847.9V322.1H841.7zM866.5 315.8H878.9V322.1H866.5zM891.3 315.8H897.5V322.1H891.3zM302.2 322.1H308.4V328.3H302.2zM320.8 322.1H327.0V328.3H320.8zM358.1 322.1H370.5V328.3H358.1zM847.9 322.1H860.3V328.3H847.9zM872.7 322.1H903.7V328.3H872.7zM302.2 328.3H308.4V334.6H302.2zM364.3 328.3H370.5V334.6H364.3zM847.9 328.3H854.1V334.6H847.9zM866.5 328.3H872.7V334.6H866.5zM878.9 328.3H891.3V334.6H878.9zM302.2 334.6H308.4V340.8H302.2zM358.1 334.6H364.3V340.8H358.1zM370.5 334.6H376.7V340.8H370.5zM854.1 334.6H866.5V340.8H854.1zM885.1 334.6H891.3V340.8H885.1zM302.2 340.8H308.4V347.1H302.2zM885.1 340.8H891.3V347.1H885.1zM314.6 347.1H345.7V353.4H314.6zM382.9 347.1H389.1V353.4H382.9zM606.1 347.1H612.3V353.4H606.1zM277.4 353.4H289.8V359.6H277.4zM320.8 353.4H333.2V359.6H320.8zM606.1 353.4H612.3V359.6H606.1zM314.6 359.6H333.2V365.9H314.6zM637.1 359.6H643.3V365.9H637.1zM314.6 365.9H320.8V372.1H314.6zM327.0 365.9H333.2V372.1H327.0zM637.1 365.9H643.3V372.1H637.1zM370.5 372.1H376.7V378.4H370.5zM364.3 378.4H376.7V384.6H364.3zM649.5 378.4H661.9V384.6H649.5zM345.7 384.6H351.9V390.9H345.7zM649.5 384.6H655.7V390.9H649.5zM333.2 390.9H351.9V397.1H333.2zM358.1 390.9H370.5V397.1H358.1zM358.1 397.1H364.3V403.4H358.1zM327.0 403.4H333.2V409.6H327.0zM364.3 409.6H370.5V415.9H364.3zM370.5 415.9H376.7V422.2H370.5zM370.5 422.2H376.7V428.4H370.5zM389.1 422.2H395.3V428.4H389.1zM339.5 428.4H358.1V434.7H339.5zM624.7 472.2H630.9V478.5H624.7zM612.3 478.5H618.5V484.7H612.3zM420.1 528.5H426.3V534.8H420.1zM401.5 534.8H407.7V541.0H401.5zM426.3 541.0H432.5V547.3H426.3zM401.5 547.3H407.7V553.5H401.5zM420.1 547.3H426.3V553.5H420.1zM407.7 553.5H413.9V559.8H407.7zM407.7 559.8H413.9V566.0H407.7zM401.5 566.0H407.7V572.3H401.5zM438.7 566.0H444.9V572.3H438.7zM444.9 572.3H451.1V578.5H444.9zM407.7 578.5H413.9V584.8H407.7zM438.7 578.5H444.9V584.8H438.7zM413.9 584.8H420.1V591.0H413.9zM475.9 584.8H482.1V591.0H475.9zM420.1 591.0H426.3V597.3H420.1zM475.9 591.0H482.1V597.3H475.9zM482.1 597.3H488.3V603.6H482.1zM407.7 603.6H413.9V609.8H407.7zM482.1 603.6H488.3V609.8H482.1zM420.1 609.8H426.3V616.1H420.1zM482.1 609.8H488.3V616.1H482.1zM407.7 622.3H413.9V628.6H407.7zM482.1 628.6H488.3V634.8H482.1zM426.3 634.8H438.7V641.1H426.3zM488.3 634.8H494.5V641.1H488.3zM426.3 641.1H432.5V647.3H426.3zM444.9 641.1H451.1V647.3H444.9zM488.3 641.1H494.5V647.3H488.3zM482.1 647.3H488.3V653.6H482.1zM451.1 653.6H457.3V659.9H451.1zM475.9 659.9H488.3V666.1H475.9zM506.9 659.9H513.1V666.1H506.9zM457.3 666.1H463.5V672.4H457.3zM482.1 666.1H488.3V672.4H482.1zM463.5 672.4H469.7V678.6H463.5zM475.9 672.4H482.1V678.6H475.9zM475.9 678.6H482.1V684.9H475.9zM475.9 684.9H482.1V691.1H475.9zM469.7 691.1H475.9V697.4H469.7zM599.9 747.4H606.1V753.7H599.9z"/>
<path fill="#58f808" d="M767.3 146.9H773.5V153.2H767.3zM723.9 165.7H742.5V172.0H723.9zM748.7 165.7H754.9V172.0H748.7zM866.5 165.7H872.7V172.0H866.5zM723.9 172.0H742.5V178.2H723.9zM847.9 172.0H854.1V178.2H847.9zM860.3 172.0H878.9V178.2H860.3zM717.7 178.2H748.7V184.5H717.7zM767.3 178.2H773.5V184.5H767.3zM860.3 178.2H866.5V184.5H860.3zM717.7 184.5H723.9V190.7H717.7zM847.9 184.5H866.5V190.7H847.9zM891.3 184.5H903.7V190.7H891.3zM847.9 190.7H860.3V197.0H847.9zM891.3 190.7H909.9V197.0H891.3zM785.9 197.0H792.1V203.2H785.9zM835.5 197.0H841.7V203.2H835.5zM897.5 197.0H916.1V203.2H897.5zM792.1 203.2H798.3V209.5H792.1zM816.9 203.2H835.5V209.5H816.9zM897.5 203.2H909.9V209.5H897.5zM916.1 203.2H934.7V209.5H916.1zM792.1 209.5H798.3V215.7H792.1zM810.7 209.5H829.3V215.7H810.7zM903.7 209.5H909.9V215.7H903.7zM922.3 209.5H953.4V215.7H922.3zM965.8 209.5H996.8V215.7H965.8zM1003.0 209.5H1027.8V215.7H1003.0zM903.7 215.7H909.9V222.0H903.7zM916.1 215.7H928.5V222.0H916.1zM953.4 215.7H1027.8V222.0H953.4zM798.3 222.0H804.5V228.3H798.3zM872.7 222.0H891.3V228.3H872.7zM897.5 222.0H909.9V228.3H897.5zM922.3 222.0H928.5V228.3H922.3zM953.4 222.0H959.6V228.3H953.4zM972.0 222.0H1021.6V228.3H972.0zM1046.4 222.0H1052.6V228.3H1046.4zM872.7 228.3H903.7V234.5H872.7zM909.9 228.3H916.1V234.5H909.9zM922.3 228.3H928.5V234.5H922.3zM953.4 228.3H965.8V234.5H953.4zM972.0 228.3H984.4V234.5H972.0zM1009.2 228.3H1021.6V234.5H1009.2zM1046.4 228.3H1052.6V234.5H1046.4zM1058.8 228.3H1071.2V234.5H1058.8zM872.7 234.5H885.1V240.8H872.7zM897.5 234.5H934.7V240.8H897.5zM959.6 234.5H965.8V240.8H959.6zM972.0 234.5H978.2V240.8H972.0zM984.4 234.5H990.6V240.8H984.4zM1009.2 234.5H1034.0V240.8H1009.2zM1040.2 234.5H1065.0V240.8H1040.2zM1089.8 234.5H1096.0V240.8H1089.8zM785.9 240.8H792.1V247.0H785.9zM878.9 240.8H891.3V247.0H878.9zM897.5 240.8H934.7V247.0H897.5zM947.1 240.8H1034.0V247.0H947.1zM1040.2 240.8H1052.6V247.0H1040.2zM1096.0 240.8H1102.2V247.0H1096.0zM785.9 247.0H798.3V253.3H785.9zM860.3 247.0H922.3V253.3H860.3zM953.4 247.0H972.0V253.3H953.4zM1009.2 247.0H1046.4V253.3H1009.2zM1108.4 247.0H1114.6V253.3H1108.4zM792.1 253.3H810.7V259.5H792.1zM860.3 253.3H897.5V259.5H860.3zM909.9 253.3H928.5V259.5H909.9zM1027.8 253.3H1040.2V259.5H1027.8zM1096.0 253.3H1102.2V259.5H1096.0zM1108.4 253.3H1114.6V259.5H1108.4zM798.3 259.5H816.9V265.8H798.3zM866.5 259.5H885.1V265.8H866.5zM891.3 259.5H903.7V265.8H891.3zM909.9 259.5H928.5V265.8H909.9zM940.9 259.5H947.1V265.8H940.9zM959.6 259.5H965.8V265.8H959.6zM810.7 265.8H829.3V272.0H810.7zM872.7 265.8H897.5V272.0H872.7zM909.9 265.8H947.1V272.0H909.9zM972.0 265.8H978.2V272.0H972.0zM1009.2 265.8H1021.6V272.0H1009.2zM1096.0 265.8H1102.2V272.0H1096.0zM823.1 272.0H841.7V278.3H823.1zM860.3 272.0H897.5V278.3H860.3zM903.7 272.0H934.7V278.3H903.7zM978.2 272.0H990.6V278.3H978.2zM1009.2 272.0H1027.8V278.3H1009.2zM1096.0 272.0H1102.2V278.3H1096.0zM339.5 278.3H351.9V284.6H339.5zM829.3 278.3H903.7V284.6H829.3zM909.9 278.3H922.3V284.6H909.9zM984.4 278.3H996.8V284.6H984.4zM1009.2 278.3H1052.6V284.6H1009.2zM1065.0 278.3H1071.2V284.6H1065.0zM1089.8 278.3H1102.2V284.6H1089.8zM327.0 284.6H339.5V290.8H327.0zM345.7 284.6H351.9V290.8H345.7zM823.1 284.6H866.5V290.8H823.1zM872.7 284.6H916.1V290.8H872.7zM934.7 284.6H940.9V290.8H934.7zM1015.4 284.6H1021.6V290.8H1015.4zM1027.8 284.6H1077.4V290.8H1027.8zM1089.8 284.6H1102.2V290.8H1089.8zM327.0 290.8H364.3V297.1H327.0zM829.3 290.8H841.7V297.1H829.3zM847.9 290.8H866.5V297.1H847.9zM885.1 290.8H909.9V297.1H885.1zM916.1 290.8H922.3V297.1H916.1zM1077.4 290.8H1083.6V297.1H1077.4zM320.8 297.1H333.2V303.3H320.8zM339.5 297.1H364.3V303.3H339.5zM829.3 297.1H841.7V303.3H829.3zM860.3 297.1H872.7V303.3H860.3zM878.9 297.1H903.7V303.3H878.9zM934.7 297.1H940.9V303.3H934.7zM320.8 303.3H333.2V309.6H320.8zM351.9 303.3H364.3V309.6H351.9zM835.5 303.3H872.7V309.6H835.5zM878.9 303.3H891.3V309.6H878.9zM928.5 303.3H940.9V309.6H928.5zM327.0 309.6H339.5V315.8H327.0zM345.7 309.6H358.1V315.8H345.7zM841.7 309.6H891.3V315.8H841.7zM897.5 309.6H909.9V315.8H897.5zM928.5 309.6H940.9V315.8H928.5zM308.4 315.8H320.8V322.1H308.4zM327.0 315.8H351.9V322.1H327.0zM847.9 315.8H866.5V322.1H847.9zM878.9 315.8H891.3V322.1H878.9zM897.5 315.8H916.1V322.1H897.5zM934.7 315.8H947.1V322.1H934.7zM308.4 322.1H320.8V328.3H308.4zM327.0 322.1H358.1V328.3H327.0zM860.3 322.1H872.7V328.3H860.3zM903.7 322.1H916.1V328.3H903.7zM308.4 328.3H351.9V334.6H308.4zM358.1 328.3H364.3V334.6H358.1zM854.1 328.3H866.5V334.6H854.1zM308.4 334.6H358.1V340.8H308.4zM364.3 334.6H370.5V340.8H364.3zM308.4 340.8H370.5V347.1H308.4zM345.7 347.1H351.9V353.4H345.7zM358.1 347.1H376.7V353.4H358.1zM333.2 353.4H376.7V359.6H333.2zM624.7 353.4H643.3V359.6H624.7zM333.2 359.6H376.7V365.9H333.2zM624.7 359.6H637.1V365.9H624.7zM333.2 365.9H376.7V372.1H333.2zM624.7 365.9H637.1V372.1H624.7zM333.2 372.1H370.5V378.4H333.2zM339.5 378.4H364.3V384.6H339.5zM351.9 384.6H364.3V390.9H351.9zM351.9 390.9H358.1V397.1H351.9zM389.1 428.4H395.3V434.7H389.1zM624.7 440.9H630.9V447.2H624.7zM624.7 447.2H630.9V453.4H624.7zM624.7 453.4H630.9V459.7H624.7zM624.7 459.7H630.9V465.9H624.7zM606.1 472.2H618.5V478.5H606.1zM407.7 534.8H432.5V541.0H407.7zM413.9 541.0H426.3V547.3H413.9zM407.7 547.3H413.9V553.5H407.7zM395.3 553.5H407.7V559.8H395.3zM296.0 559.8H302.2V566.0H296.0zM395.3 559.8H407.7V566.0H395.3zM438.7 572.3H444.9V578.5H438.7zM413.9 578.5H420.1V584.8H413.9zM451.1 584.8H457.3V591.0H451.1zM407.7 591.0H420.1V597.3H407.7zM432.5 591.0H438.7V597.3H432.5zM457.3 591.0H469.7V597.3H457.3zM407.7 597.3H413.9V603.6H407.7zM432.5 597.3H438.7V603.6H432.5zM438.7 603.6H444.9V609.8H438.7zM457.3 603.6H463.5V609.8H457.3zM407.7 609.8H413.9V616.1H407.7zM426.3 609.8H444.9V616.1H426.3zM469.7 609.8H475.9V616.1H469.7zM426.3 616.1H438.7V622.3H426.3zM413.9 622.3H438.7V628.6H413.9zM482.1 622.3H488.3V628.6H482.1zM420.1 628.6H444.9V634.8H420.1zM475.9 628.6H482.1V634.8H475.9zM488.3 628.6H494.5V634.8H488.3zM438.7 634.8H444.9V641.1H438.7zM482.1 634.8H488.3V641.1H482.1zM482.1 641.1H488.3V647.3H482.1zM451.1 647.3H457.3V653.6H451.1zM469.7 647.3H482.1V653.6H469.7zM469.7 653.6H482.1V659.9H469.7zM457.3 659.9H463.5V666.1H457.3zM469.7 659.9H475.9V666.1H469.7zM463.5 666.1H482.1V672.4H463.5zM488.3 666.1H494.5V672.4H488.3zM469.7 672.4H475.9V678.6H469.7z"/>
<path fill="#ffff00" d="M717.7 172.0H723.9V178.2H717.7zM885.1 178.2H891.3V184.5H885.1zM860.3 190.7H866.5V197.0H860.3zM841.7 197.0H854.1V203.2H841.7zM891.3 197.0H897.5V203.2H891.3zM891.3 203.2H897.5V209.5H891.3zM909.9 203.2H916.1V209.5H909.9zM798.3 209.5H810.7V215.7H798.3zM829.3 209.5H835.5V215.7H829.3zM897.5 209.5H903.7V215.7H897.5zM909.9 209.5H922.3V215.7H909.9zM798.3 215.7H835.5V222.0H798.3zM878.9 215.7H885.1V222.0H878.9zM897.5 215.7H903.7V222.0H897.5zM909.9 215.7H916.1V222.0H909.9zM928.5 215.7H934.7V222.0H928.5zM947.1 215.7H953.4V222.0H947.1zM804.5 222.0H823.1V228.3H804.5zM891.3 222.0H897.5V228.3H891.3zM909.9 222.0H922.3V228.3H909.9zM928.5 222.0H934.7V228.3H928.5zM947.1 222.0H953.4V228.3H947.1zM959.6 222.0H972.0V228.3H959.6zM1052.6 222.0H1065.0V228.3H1052.6zM792.1 228.3H804.5V234.5H792.1zM916.1 228.3H922.3V234.5H916.1zM928.5 228.3H940.9V234.5H928.5zM965.8 228.3H972.0V234.5H965.8zM1052.6 228.3H1058.8V234.5H1052.6zM792.1 234.5H798.3V240.8H792.1zM841.7 234.5H847.9V240.8H841.7zM866.5 234.5H872.7V240.8H866.5zM885.1 234.5H897.5V240.8H885.1zM934.7 234.5H940.9V240.8H934.7zM947.1 234.5H953.4V240.8H947.1zM1065.0 234.5H1089.8V240.8H1065.0zM792.1 240.8H804.5V247.0H792.1zM829.3 240.8H847.9V247.0H829.3zM854.1 240.8H878.9V247.0H854.1zM934.7 240.8H947.1V247.0H934.7zM1058.8 240.8H1065.0V247.0H1058.8zM798.3 247.0H810.7V253.3H798.3zM823.1 247.0H860.3V253.3H823.1zM922.3 247.0H928.5V253.3H922.3zM972.0 247.0H990.6V253.3H972.0zM1003.0 247.0H1009.2V253.3H1003.0zM1096.0 247.0H1102.2V253.3H1096.0zM810.7 253.3H841.7V259.5H810.7zM847.9 253.3H860.3V259.5H847.9zM959.6 253.3H978.2V259.5H959.6zM1009.2 253.3H1021.6V259.5H1009.2zM1040.2 253.3H1046.4V259.5H1040.2zM816.9 259.5H829.3V265.8H816.9zM835.5 259.5H866.5V265.8H835.5zM928.5 259.5H940.9V265.8H928.5zM947.1 259.5H959.6V265.8H947.1zM965.8 259.5H972.0V265.8H965.8zM1003.0 259.5H1015.4V265.8H1003.0zM1027.8 259.5H1040.2V265.8H1027.8zM1089.8 259.5H1102.2V265.8H1089.8zM829.3 265.8H841.7V272.0H829.3zM847.9 265.8H872.7V272.0H847.9zM978.2 265.8H990.6V272.0H978.2zM1003.0 265.8H1009.2V272.0H1003.0zM1021.6 265.8H1034.0V272.0H1021.6zM1071.2 265.8H1077.4V272.0H1071.2zM1089.8 265.8H1096.0V272.0H1089.8zM841.7 272.0H860.3V278.3H841.7zM897.5 272.0H903.7V278.3H897.5zM990.6 272.0H1009.2V278.3H990.6zM1027.8 272.0H1046.4V278.3H1027.8zM1065.0 272.0H1071.2V278.3H1065.0zM1089.8 272.0H1096.0V278.3H1089.8zM903.7 278.3H909.9V284.6H903.7zM996.8 278.3H1009.2V284.6H996.8zM1052.6 278.3H1065.0V284.6H1052.6zM1071.2 278.3H1089.8V284.6H1071.2zM1077.4 284.6H1089.8V290.8H1077.4zM841.7 290.8H847.9V297.1H841.7zM333.2 297.1H339.5V303.3H333.2zM841.7 297.1H854.1V303.3H841.7zM333.2 303.3H351.9V309.6H333.2zM872.7 303.3H878.9V309.6H872.7zM339.5 309.6H345.7V315.8H339.5zM351.9 328.3H358.1V334.6H351.9zM351.9 347.1H358.1V353.4H351.9zM401.5 541.0H407.7V547.3H401.5zM444.9 578.5H451.1V584.8H444.9zM438.7 584.8H444.9V591.0H438.7zM438.7 591.0H444.9V597.3H438.7zM451.1 591.0H457.3V597.3H451.1zM469.7 591.0H475.9V597.3H469.7zM438.7 597.3H444.9V603.6H438.7zM451.1 597.3H463.5V603.6H451.1zM475.9 597.3H482.1V603.6H475.9zM444.9 603.6H451.1V609.8H444.9zM463.5 603.6H469.7V609.8H463.5zM475.9 622.3H482.1V628.6H475.9zM444.9 634.8H451.1V641.1H444.9zM475.9 634.8H482.1V641.1H475.9zM451.1 641.1H457.3V647.3H451.1zM475.9 641.1H482.1V647.3H475.9zM457.3 647.3H469.7V653.6H457.3zM457.3 653.6H469.7V659.9H457.3zM463.5 659.9H469.7V666.1H463.5z"/>
<path fill="#ffc810" d="M866.5 178.2H885.1V184.5H866.5zM866.5 184.5H872.7V190.7H866.5zM885.1 184.5H891.3V190.7H885.1zM866.5 190.7H872.7V197.0H866.5zM885.1 190.7H891.3V197.0H885.1zM854.1 197.0H872.7V203.2H854.1zM885.1 197.0H891.3V203.2H885.1zM835.5 203.2H841.7V209.5H835.5zM872.7 203.2H878.9V209.5H872.7zM885.1 203.2H891.3V209.5H885.1zM835.5 209.5H841.7V215.7H835.5zM866.5 209.5H897.5V215.7H866.5zM866.5 215.7H878.9V222.0H866.5zM885.1 215.7H897.5V222.0H885.1zM934.7 215.7H947.1V222.0H934.7zM823.1 222.0H847.9V228.3H823.1zM866.5 222.0H872.7V228.3H866.5zM934.7 222.0H947.1V228.3H934.7zM804.5 228.3H816.9V234.5H804.5zM823.1 228.3H854.1V234.5H823.1zM860.3 228.3H872.7V234.5H860.3zM940.9 228.3H953.4V234.5H940.9zM798.3 234.5H810.7V240.8H798.3zM823.1 234.5H841.7V240.8H823.1zM847.9 234.5H866.5V240.8H847.9zM940.9 234.5H947.1V240.8H940.9zM804.5 240.8H810.7V247.0H804.5zM816.9 240.8H829.3V247.0H816.9zM847.9 240.8H854.1V247.0H847.9zM1052.6 240.8H1058.8V247.0H1052.6zM1065.0 240.8H1096.0V247.0H1065.0zM810.7 247.0H823.1V253.3H810.7zM928.5 247.0H953.4V253.3H928.5zM990.6 247.0H1003.0V253.3H990.6zM1046.4 247.0H1052.6V253.3H1046.4zM1071.2 247.0H1077.4V253.3H1071.2zM1083.6 247.0H1096.0V253.3H1083.6zM841.7 253.3H847.9V259.5H841.7zM928.5 253.3H959.6V259.5H928.5zM978.2 253.3H990.6V259.5H978.2zM1003.0 253.3H1009.2V259.5H1003.0zM1021.6 253.3H1027.8V259.5H1021.6zM1083.6 253.3H1096.0V259.5H1083.6zM829.3 259.5H835.5V265.8H829.3zM972.0 259.5H990.6V265.8H972.0zM1015.4 259.5H1027.8V265.8H1015.4zM1040.2 259.5H1052.6V265.8H1040.2zM1071.2 259.5H1083.6V265.8H1071.2zM841.7 265.8H847.9V272.0H841.7zM996.8 265.8H1003.0V272.0H996.8zM1034.0 265.8H1071.2V272.0H1034.0zM1077.4 265.8H1089.8V272.0H1077.4zM1046.4 272.0H1065.0V278.3H1046.4zM1071.2 272.0H1089.8V278.3H1071.2zM407.7 541.0H413.9V547.3H407.7zM444.9 584.8H451.1V591.0H444.9zM444.9 597.3H451.1V603.6H444.9zM463.5 597.3H469.7V603.6H463.5zM451.1 603.6H457.3V609.8H451.1zM469.7 603.6H482.1V609.8H469.7zM444.9 609.8H469.7V616.1H444.9zM438.7 616.1H444.9V622.3H438.7zM469.7 616.1H475.9V622.3H469.7zM438.7 622.3H444.9V628.6H438.7zM444.9 628.6H451.1V634.8H444.9zM463.5 628.6H469.7V634.8H463.5zM451.1 634.8H463.5V641.1H451.1zM469.7 634.8H475.9V641.1H469.7zM457.3 641.1H469.7V647.3H457.3z"/>
<path fill="#f00000" d="M872.7 184.5H885.1V190.7H872.7zM872.7 190.7H885.1V197.0H872.7zM872.7 197.0H885.1V203.2H872.7zM841.7 203.2H872.7V209.5H841.7zM878.9 203.2H885.1V209.5H878.9zM841.7 209.5H847.9V215.7H841.7zM835.5 215.7H847.9V222.0H835.5zM860.3 215.7H866.5V222.0H860.3zM854.1 222.0H866.5V228.3H854.1zM816.9 228.3H823.1V234.5H816.9zM854.1 228.3H860.3V234.5H854.1zM810.7 234.5H823.1V240.8H810.7zM810.7 240.8H816.9V247.0H810.7zM1052.6 247.0H1071.2V253.3H1052.6zM1077.4 247.0H1083.6V253.3H1077.4zM990.6 253.3H1003.0V259.5H990.6zM1046.4 253.3H1083.6V259.5H1046.4zM990.6 259.5H1003.0V265.8H990.6zM1052.6 259.5H1071.2V265.8H1052.6zM1083.6 259.5H1089.8V265.8H1083.6zM990.6 265.8H996.8V272.0H990.6zM444.9 591.0H451.1V597.3H444.9zM469.7 597.3H475.9V603.6H469.7zM444.9 616.1H469.7V622.3H444.9zM444.9 622.3H451.1V628.6H444.9zM457.3 622.3H475.9V628.6H457.3zM451.1 628.6H463.5V634.8H451.1zM469.7 628.6H475.9V634.8H469.7zM463.5 634.8H469.7V641.1H463.5zM469.7 641.1H475.9V647.3H469.7z"/>
<path fill="#700000" d="M847.9 209.5H866.5V215.7H847.9zM847.9 215.7H860.3V222.0H847.9zM847.9 222.0H854.1V228.3H847.9z"/>
<path fill="#d00000" d="M451.1 622.3H457.3V628.6H451.1z"/>
<path fill="#18d818" d="M587.5 734.9H593.7V741.2H587.5z"/>
</g>
<path shape-rendering="crispEdges" fill="none" stroke="#fff" stroke-width="1" stroke-opacity="0.14" d="M29.5 48.0V920.8M35.5 48.0V920.8M60.5 48.0V920.8M66.5 48.0V920.8M91.5 48.0V920.8M97.5 48.0V920.8M122.5 48.0V920.8M128.5 48.0V920.8M153.5 48.0V920.8M159.5 48.0V920.8M178.5 48.0V920.8M184.5 48.0V920.8M190.5 48.0V920.8M209.5 48.0V920.8M215.5 48.0V920.8M221.5 48.0V920.8M240.5 48.0V920.8M246.5 48.0V920.8M252.5 48.0V920.8M271.5 48.0V920.8M277.5 48.0V920.8M283.5 48.0V920.8M302.5 48.0V920.8M308.5 48.0V920.8M314.5 48.0V920.8M333.5 48.0V920.8M339.5 48.0V920.8M345.5 48.0V920.8M364.5 48.0V920.8M370.5 48.0V920.8M376.5 48.0V920.8M395.5 48.0V920.8M401.5 48.0V920.8M407.5 48.0V920.8M426.5 48.0V920.8M432.5 48.0V920.8M438.5 48.0V920.8M457.5 48.0V920.8M463.5 48.0V920.8M469.5 48.0V920.8M488.5 48.0V920.8M494.5 48.0V920.8M500.5 48.0V920.8M519.5 48.0V920.8M525.5 48.0V920.8M531.5 48.0V920.8M550.5 48.0V920.8M556.5 48.0V920.8M562.5 48.0V920.8M581.5 48.0V920.8M587.5 48.0V920.8M612.5 48.0V920.8M618.5 48.0V920.8M643.5 48.0V920.8M649.5 48.0V920.8M674.5 48.0V920.8M680.5 48.0V920.8M705.5 48.0V920.8M711.5 48.0V920.8M736.5 48.0V920.8M742.5 48.0V920.8M767.5 48.0V920.8M773.5 48.0V920.8M798.5 48.0V920.8M804.5 48.0V920.8M823.5 48.0V920.8M829.5 48.0V920.8M835.5 48.0V920.8M854.5 48.0V920.8M860.5 48.0V920.8M866.5 48.0V920.8M885.5 48.0V920.8M891.5 48.0V920.8M897.5 48.0V920.8M916.5 48.0V920.8M922.5 48.0V920.8M928.5 48.0V920.8M947.5 48.0V920.8M953.5 48.0V920.8M959.5 48.0V920.8M978.5 48.0V920.8M984.5 48.0V920.8M990.5 48.0V920.8M1009.5 48.0V920.8M1015.5 48.0V920.8M1021.5 48.0V920.8M1040.5 48.0V920.8M1046.5 48.0V920.8M1052.5 48.0V920.8M1071.5 48.0V920.8M1077.5 48.0V920.8M1083.5 48.0V920.8M1102.5 48.0V920.8M1108.5 48.0V920.8M1114.5 48.0V920.8M1133.5 48.0V920.8M1139.5 48.0V920.8M1145.5 48.0V920.8M1164.5 48.0V920.8M1170.5 48.0V920.8M1176.5 48.0V920.8M1195.5 48.0V920.8M1201.5 48.0V920.8M1226.5 48.0V920.8M1232.5 48.0V920.8M1257.5 48.0V920.8M1263.5 48.0V920.8M15.9 59.5H1283.8M15.9 65.5H1283.8M15.9 84.5H1283.8M15.9 90.5H1283.8M15.9 109.5H1283.8M15.9 115.5H1283.8M15.9 134.5H1283.8M15.9 140.5H1283.8M15.9 159.5H1283.8M15.9 165.5H1283.8M15.9 184.5H1283.8M15.9 190.5H1283.8M15.9 209.5H1283.8M15.9 215.5H1283.8M15.9 228.5H1283.8M15.9 234.5H1283.8M15.9 240.5H1283.8M15.9 253.5H1283.8M15.9 259.5H1283.8M15.9 278.5H1283.8M15.9 284.5H1283.8M15.9 303.5H1283.8M15.9 309.5H1283.8M15.9 328.5H1283.8M15.9 334.5H1283.8M15.9 353.5H1283.8M15.9 359.5H1283.8M15.9 378.5H1283.8M15.9 384.5H1283.8M15.9 403.5H1283.8M15.9 409.5H1283.8M15.9 428.5H1283.8M15.9 434.5H1283.8M15.9 453.5H1283.8M15.9 459.5H1283.8M15.9 478.5H1283.8M15.9 484.5H1283.8M15.9 503.5H1283.8M15.9 509.5H1283.8M15.9 528.5H1283.8M15.9 534.5H1283.8M15.9 547.5H1283.8M15.9 553.5H1283.8M15.9 559.5H1283.8M15.9 572.5H1283.8M15.9 578.5H1283.8M15.9 597.5H1283.8M15.9 603.5H1283.8M15.9 622.5H1283.8M15.9 628.5H1283.8M15.9 647.5H1283.8M15.9 653.5H1283.8M15.9 672.5H1283.8M15.9 678.5H1283.8M15.9 697.5H1283.8M15.9 703.5H1283.8M15.9 722.5H1283.8M15.9 728.5H1283.8M15.9 747.5H1283.8M15.9 753.5H1283.8M15.9 772.5H1283.8M15.9 778.5H1283.8M15.9 797.5H1283.8M15.9 803.5H1283.8M15.9 822.5H1283.8M15.9 828.5H1283.8M15.9 847.5H1283.8M15.9 853.5H1283.8M15.9 866.5H1283.8M15.9 872.5H1283.8M15.9 878.5H1283.8M15.9 891.5H1283.8M15.9 897.5H1283.8M15.9 916.5H1283.8"/>
<path d="M151.6 48.6L150.6 51.6L149.0 54.4L148.2 56.7L147.0 58.7L145.5 60.6L144.2 63.5L144.0 65.3L142.8 66.8L141.2 68.2L140.2 70.0L138.4 70.9L138.7 72.9L137.4 75.2L136.4 77.6L135.6 80.1L134.2 82.1L132.5 84.0L131.5 86.3L129.1 87.7L126.9 89.4L126.5 92.3L125.1 94.9L124.3 97.6L124.2 100.4L123.1 102.9L122.3 105.4L121.2 107.9L120.9 110.4L119.9 112.6L118.7 114.8L118.1 117.2L118.3 119.6L117.7 122.0L117.5 124.4L119.0 126.2L119.8 128.3L120.1 130.6L122.3 132.3L123.3 134.9L125.3 136.8L127.2 138.3L129.1 139.8L130.4 141.9L133.1 143.2L135.6 145.0L136.2 147.0L136.0 149.1L134.1 151.6L132.5 154.3L131.7 156.3L131.5 158.6L130.0 160.4L129.7 163.5L129.4 166.6L131.2 168.2L133.1 169.7L132.4 172.3L132.5 174.9L130.3 177.0L130.0 180.0L129.7 183.1L130.4 186.2L132.1 188.4L132.9 190.9L133.9 193.4L134.5 196.0L135.6 198.5L136.0 200.8L137.4 202.7L138.3 204.7L139.3 207.7L139.7 210.9L140.4 212.9L140.6 215.1L141.3 217.1L141.1 219.4L140.7 221.6L143.2 223.1L145.9 224.3L148.6 225.6L151.0 227.4L152.9 228.8L155.3 229.1L157.2 230.4L158.2 233.3L160.3 235.6L161.8 237.7L163.6 239.5L162.2 242.1L161.0 244.8L160.6 247.7L159.2 250.2L158.1 253.0L156.5 255.6L157.7 257.9L159.2 260.0L159.5 262.5L159.7 264.9L160.2 267.4L160.1 269.9L159.6 272.8L159.5 275.8L159.7 278.8L160.7 281.4L161.1 284.1L161.7 286.8L161.9 289.6L160.4 291.5L160.9 294.5L158.3 295.8L159.4 297.9L160.4 300.0L161.5 302.1L161.6 305.1L161.6 308.0L161.9 311.0L162.1 313.5L163.2 315.8L163.7 318.2L163.6 320.6L163.2 323.0L162.8 325.4L164.3 327.9L166.4 329.8L166.6 331.9L166.3 334.2L167.6 336.1L166.9 338.5L168.3 341.0L166.8 343.3L166.4 345.6L165.3 347.8L165.0 350.2L163.4 352.2L163.0 354.8L161.3 356.6L160.1 358.8L158.8 361.5L156.2 363.2L154.7 365.6L151.9 367.1L151.4 370.4L149.4 372.2L147.6 374.1L145.8 376.1L144.7 378.6L142.8 380.5L140.4 382.3L137.4 383.6L135.6 386.2L133.3 388.0L131.3 390.1L128.3 391.0L126.6 393.5L124.0 394.9L121.6 396.2L119.1 397.2L116.2 397.1L113.9 398.6L111.8 400.8L108.6 399.8L106.2 401.3L103.7 402.3L101.0 402.7L98.5 403.5L96.2 404.6L94.3 406.6L91.5 407.0L89.4 408.5L86.7 409.6L84.2 411.1L81.9 412.8L79.3 414.2L77.0 416.1L74.9 418.1L72.8 420.2L70.7 422.3L69.3 424.7L67.3 426.4L65.9 428.7L63.4 430.1L62.0 432.4L60.8 434.7L58.7 436.4L57.4 438.7L56.2 441.0L53.0 441.4L50.3 443.1L47.7 444.9L44.7 445.9L41.8 446.6L40.0 448.7L38.0 450.6L36.1 452.6L34.8 455.7L31.3 456.4L29.5 459.0L27.4 461.2L24.9 463.0L22.9 465.5L20.2 467.0L18.0 467.7L15.9 468.5M15.9 484.3L17.8 486.2L20.0 487.9L21.6 490.1L24.3 491.8L24.4 494.8L25.4 497.3L26.8 500.1L25.6 503.0L26.0 505.9L27.3 508.8L28.5 511.7L29.7 514.6L30.8 517.4L31.3 520.3L32.3 523.1L32.3 526.1L32.0 529.0L31.2 531.9L33.1 530.2L34.5 528.0L35.5 530.6L35.1 533.5L36.1 536.2L37.2 539.0L36.7 542.1L37.5 544.9L36.4 547.3L35.6 549.8L34.7 552.3L34.6 555.0L34.0 557.9L33.2 560.7L32.4 563.5L32.3 566.5L33.9 567.8L35.2 569.4L33.6 571.6L35.0 574.3L34.0 576.6L32.5 579.2L30.3 581.2L28.8 583.8L26.2 585.5L23.8 587.4L21.6 589.6L19.4 592.4L15.9 592.5M377.0 271.0L377.9 272.7L379.6 273.5L379.4 275.8L379.0 278.0L376.3 278.0L375.3 276.0L373.2 277.9L370.9 279.5L369.5 281.2L368.3 283.0L366.4 283.0L364.4 283.0L365.7 285.7L367.4 288.3L368.5 290.4L369.1 292.6L368.4 294.6L367.5 296.6L367.4 298.8L365.5 301.3L363.9 304.0L361.5 305.4L359.5 307.5L357.4 308.9L356.0 311.0L355.4 313.1L354.5 315.2L353.4 317.1L350.8 315.4L351.0 312.8L349.0 311.0L346.8 310.4L344.6 310.1L345.2 313.2L342.9 315.4L345.2 316.8L345.3 319.4L346.4 321.5L346.1 324.1L345.9 326.8L343.4 327.4L341.1 328.5L340.2 331.2L338.9 333.8L340.4 335.2L342.0 336.4L343.9 336.9L345.9 337.3L345.2 339.9L343.3 338.4L341.1 337.3L339.4 339.1L337.6 340.8L335.6 343.2L334.1 346.0L332.2 347.6L330.6 349.5L328.3 349.5L326.3 350.4L323.8 352.3L321.9 354.8L319.2 354.4L316.6 353.9L314.9 356.5L312.3 358.3L310.4 359.6L308.8 361.2L307.0 362.6L304.6 363.7L302.6 365.3L300.4 366.5L297.9 367.2L295.1 367.3L292.5 368.1L290.3 370.3L287.2 369.8L284.4 370.9L281.8 372.5L279.1 372.9L276.4 373.4L274.0 373.8L271.8 375.2L269.3 375.2L266.9 375.6L264.5 376.1L262.1 376.1L259.2 376.4L256.7 377.9L255.3 380.4L255.2 383.4L254.1 386.0L253.0 388.9L251.6 391.7L251.4 394.9L250.6 397.5L249.0 399.7L247.8 402.1L247.6 404.7L246.4 407.0L245.1 409.2L244.6 412.4L246.0 415.3L246.9 418.2L246.6 421.2L248.4 424.0L247.8 427.1L249.7 429.8L249.3 433.2L250.5 436.1L251.2 438.4L252.1 440.6L252.8 442.9L254.1 445.0L254.9 448.0L255.4 451.1L256.7 453.9L257.5 456.3L257.7 458.7L258.5 461.1L258.1 463.5L257.8 465.9L257.6 468.3L257.1 470.6L256.9 473.0L255.8 475.2L254.4 477.3L251.7 478.5L251.4 481.4L250.0 483.4L248.7 485.5L246.9 487.2L246.0 489.5L244.6 491.6L244.0 494.1L243.8 496.8L241.5 498.4L240.3 500.4L239.0 502.4L237.1 503.8L235.2 503.8L233.5 504.7L233.6 507.4L233.3 510.1L232.6 512.7L230.9 515.0L230.2 517.9L228.1 519.9L227.5 522.3L227.5 524.7L227.2 527.1L228.1 529.4L229.0 531.7L229.0 534.2L230.2 536.5L230.6 539.1L231.7 541.4L233.0 543.9L234.6 546.2L236.2 548.5L237.3 550.8L237.9 553.2L237.9 555.7L239.6 557.2L240.1 559.4L241.5 561.1L239.5 561.6L237.9 562.8L238.6 565.8L238.1 568.8L238.8 571.8L238.4 574.8L237.6 577.7L238.8 580.7L240.6 582.5L243.1 583.6L244.2 586.1L245.1 588.5L245.8 591.0L246.9 593.3L248.8 595.6L249.6 598.4L251.6 600.0L253.6 601.5L255.8 602.8L258.3 603.0L260.5 604.2L263.0 604.6L264.9 606.0L267.1 606.5L269.3 607.3L271.5 608.9L274.3 609.5L276.4 611.4L279.5 611.4L282.4 610.3L285.4 610.0L288.2 609.7L290.4 608.1L292.5 606.4L295.4 606.2L297.1 603.5L299.7 602.8L301.8 601.0L304.4 601.5L306.8 601.1L309.5 601.8L312.2 601.6L314.8 600.2L317.6 599.3L320.2 597.9L322.9 596.6L323.0 594.9L323.8 593.3L324.7 590.6L326.8 588.3L326.8 585.3L327.4 582.5L329.4 580.2L330.6 577.6L329.2 574.2L331.0 571.8L331.5 569.0L333.1 566.5L333.9 563.8L334.6 561.0L335.5 558.3L336.4 555.6L338.1 553.3L338.2 550.3L339.2 547.7L339.2 544.9L340.1 542.3L340.8 539.6L341.2 536.8L342.5 534.3L341.9 531.3L343.5 528.8L344.3 526.3L344.7 523.6L345.7 521.1L345.8 518.3L348.0 516.3L349.4 514.0L349.3 511.1L351.1 508.9L351.6 506.3L352.5 503.8L352.8 501.1L354.0 498.7L354.9 496.2L355.8 493.7L357.0 491.3L358.1 488.8L358.6 486.2L359.9 483.8L359.2 480.7L361.4 478.7L362.1 476.8L363.2 475.0L363.4 471.9L364.1 468.8L364.9 465.9L365.9 462.9L366.7 460.4L366.7 457.7L368.1 455.4L369.3 453.1L369.5 450.4L368.8 447.5L370.6 445.3L371.1 442.7L372.7 440.4L373.1 437.8L373.7 435.3L374.7 432.8L375.8 430.5L375.8 427.8L376.6 425.3L378.8 425.6L380.9 425.0L381.7 422.1L382.7 419.1L382.3 416.0L382.4 413.1L382.5 410.2L383.1 407.3L383.6 404.9L384.7 402.7L384.9 400.3L385.7 397.6L386.6 395.0L388.3 393.7L390.1 392.4L391.2 390.2L392.4 388.0L392.3 385.7L392.4 383.3L391.9 381.0L391.3 378.7L391.1 376.2L390.1 374.0L389.4 371.7L389.2 369.3L388.4 367.0L388.9 364.1L387.0 361.8L386.8 359.7L388.4 358.3L390.1 357.7L391.9 358.3L392.8 360.0L393.6 361.8L394.1 364.4L394.5 367.0L395.8 368.5L396.3 370.5L398.2 370.5L399.8 371.4L401.5 370.1L403.3 368.8L404.8 366.3L405.9 363.5L406.9 361.3L406.5 358.7L407.6 356.5L406.7 354.0L407.1 351.3L406.8 348.8L405.2 346.8L405.0 344.3L404.2 341.9L402.9 339.8L402.4 337.3L401.9 334.9L400.6 332.8L400.6 330.3L399.7 328.0L400.4 325.6L399.8 323.3L398.7 321.1L399.1 318.5L398.0 316.3L397.5 314.0L397.3 311.6L397.1 309.3L397.0 306.8L396.1 304.6L395.4 302.3L394.3 300.0L393.3 297.8L392.8 295.3L391.2 292.6L389.3 290.0L387.7 288.1L385.8 286.5L384.5 284.0L384.0 281.3L381.7 279.7L379.6 277.8M332.4 339.0L333.2 342.5L331.5 349.5L330.6 344.2L328.0 341.6L332.4 339.0M321.9 354.8L326.3 357.4L321.0 360.0L321.9 354.8M303.5 367.0L307.9 368.8L305.2 370.9L302.1 368.8L303.5 367.0" fill="none" stroke="#000" stroke-width="1.5" stroke-linejoin="round"/>
<path d="M23.2 920.0V48.0M147.2 920.0V48.0M271.2 920.0V48.0M395.3 920.0V48.0M519.3 920.0V48.0M643.3 920.0V48.0M767.3 920.0V48.0M891.3 920.0V48.0M1015.4 920.0V48.0M1139.4 920.0V48.0M1263.4 920.0V48.0M15.9 96.5H1283.8M15.9 221.6H1283.8M15.9 346.7H1283.8M15.9 471.8H1283.8M15.9 596.9H1283.8M15.9 722.0H1283.8M15.9 847.1H1283.8" fill="none" stroke="#000" stroke-width="1.35" stroke-dasharray="2.3 5.97" stroke-dashoffset="1.15"/>
<text x="22.9" y="913.0" font-size="13.8" text-anchor="middle" letter-spacing="0.3">35</text>
<text x="146.9" y="913.0" font-size="13.8" text-anchor="middle" letter-spacing="0.3">40</text>
<text x="270.9" y="913.0" font-size="13.8" text-anchor="middle" letter-spacing="0.3">45</text>
<text x="395.0" y="913.0" font-size="13.8" text-anchor="middle" letter-spacing="0.3">50</text>
<text x="519.0" y="913.0" font-size="13.8" text-anchor="middle" letter-spacing="0.3">55</text>
<text x="643.0" y="913.0" font-size="13.8" text-anchor="middle" letter-spacing="0.3">60</text>
<text x="767.0" y="913.0" font-size="13.8" text-anchor="middle" letter-spacing="0.3">65</text>
<text x="891.0" y="913.0" font-size="13.8" text-anchor="middle" letter-spacing="0.3">70</text>
<text x="1015.1" y="913.0" font-size="13.8" text-anchor="middle" letter-spacing="0.3">75</text>
<text x="1139.1" y="913.0" font-size="13.8" text-anchor="middle" letter-spacing="0.3">80</text>
<text x="1263.1" y="913.0" font-size="13.8" text-anchor="middle" letter-spacing="0.3">85</text>
<text x="28.4" y="96.7" font-size="13.8" text-anchor="middle" letter-spacing="0.3">-5</text>
<text x="28.4" y="221.8" font-size="13.8" text-anchor="middle" letter-spacing="0.3">-10</text>
<text x="28.4" y="346.9" font-size="13.8" text-anchor="middle" letter-spacing="0.3">-15</text>
<text x="28.4" y="472.0" font-size="13.8" text-anchor="middle" letter-spacing="0.3">-20</text>
<text x="28.4" y="597.1" font-size="13.8" text-anchor="middle" letter-spacing="0.3">-25</text>
<text x="28.4" y="722.2" font-size="13.8" text-anchor="middle" letter-spacing="0.3">-30</text>
<text x="28.4" y="847.3" font-size="13.8" text-anchor="middle" letter-spacing="0.3">-35</text>
<path d="M628.2 514.5L640.0 502.0L650.7 491.3L666.8 477.0L684.7 464.0L699.0 452.2L718.7 432.5L740.2 405.6L761.7 393.1L783.2 382.4L801.1 373.4L819.0 364.5L836.8 353.7L850.0 343.7L857.8 336.8L865.5 334.4L877.0 333.8" fill="none" stroke="#0000ff" stroke-width="6" stroke-linejoin="round"/>
<path d="M878.8 320.2L889.4 315.1L894.4 311.0" fill="none" stroke="#0000ff" stroke-width="6"/>
<path d="M400.6 479.4L412.5 487.0L427.9 492.5L442.0 496.7L458.2 496.7L479.3 502.2L496.4 502.0L517.3 516.3L535.0 525.0L558.0 537.3L573.0 537.3L588.8 531.5L606.7 525.3L621.1 519.9L628.2 514.5" fill="none" stroke="#000" stroke-width="6" stroke-linejoin="round"/>
<path d="M877.4 334.6L879.4 322.6" fill="none" stroke="#000" stroke-width="6"/>
<path d="M894.2 310.6L898.7 307.0" fill="none" stroke="#000" stroke-width="6"/>
<text x="895.0" y="311.3" font-size="17">12/13</text>
<text x="879.5" y="321.3" font-size="17">12/14</text>
<text x="859.5" y="336.4" font-size="17">12/15</text>
<text x="798.0" y="377.0" font-size="17">12/16</text>
<text x="720.4" y="434.8" font-size="17">12/17</text>
<text x="652.0" y="491.6" font-size="17">12/18</text>
<text x="621.6" y="521.7" font-size="17">12/19</text>
<text x="558.8" y="536.9" font-size="17">12/20</text>
<text x="480.0" y="502.0" font-size="17">12/21</text>
<text x="413.9" y="486.4" font-size="17">12/22</text>
<rect x="15.9" y="48.0" width="1267.9" height="872.8" fill="none" stroke="#000" stroke-width="1.8"/>
<text x="27.6" y="107.8" font-size="25.0">SIO 200806 CELINA</text>
<text x="338.6" y="34.1" font-size="25.0">SIO 200806 CELINA 3B42V6 Total Rain Accumulation (mm)</text>
<rect x="1074.7" y="709.2" width="193.3" height="187.0" fill="none" stroke="#000" stroke-width="1.4"/>
<path d="M1149.4 727.9H1244.3" stroke="#000000" stroke-width="6.3" fill="none"/>
<text x="1134" y="734.5" font-size="19.8" text-anchor="end">TD</text>
<path d="M1149.4 752.8H1244.3" stroke="#0000ff" stroke-width="6.3" fill="none"/>
<text x="1134" y="759.4" font-size="19.8" text-anchor="end">TS</text>
<path d="M1149.4 777.7H1244.3" stroke="#00b400" stroke-width="6.3" fill="none"/>
<text x="1134" y="784.3" font-size="19.8" text-anchor="end">CAT1</text>
<path d="M1149.4 802.7H1244.3" stroke="#ffe610" stroke-width="6.3" fill="none"/>
<text x="1134" y="809.3" font-size="19.8" text-anchor="end">CAT2</text>
<path d="M1149.4 827.6H1244.3" stroke="#ff0000" stroke-width="6.3" fill="none"/>
<text x="1134" y="834.2" font-size="19.8" text-anchor="end">CAT3</text>
<path d="M1149.4 852.5H1244.3" stroke="#640000" stroke-width="6.3" fill="none"/>
<text x="1134" y="859.1" font-size="19.8" text-anchor="end">CAT4</text>
<path d="M1149.4 877.4H1244.3" stroke="#b400ff" stroke-width="6.3" fill="none"/>
<text x="1134" y="884.0" font-size="19.8" text-anchor="end">CAT5</text>
<rect x="1296.7" y="895.13" width="15.5" height="25.67" fill="#d3d3d3" stroke="#000" stroke-width="1.5"/>
<rect x="1296.7" y="869.46" width="15.5" height="25.67" fill="#0000ff" stroke="#000" stroke-width="1.5"/>
<rect x="1296.7" y="843.79" width="15.5" height="25.67" fill="#0010e8" stroke="#000" stroke-width="1.5"/>
<rect x="1296.7" y="818.12" width="15.5" height="25.67" fill="#0030c8" stroke="#000" stroke-width="1.5"/>
<rect x="1296.7" y="792.45" width="15.5" height="25.67" fill="#0050b0" stroke="#000" stroke-width="1.5"/>
<rect x="1296.7" y="766.78" width="15.5" height="25.67" fill="#007098" stroke="#000" stroke-width="1.5"/>
<rect x="1296.7" y="741.11" width="15.5" height="25.67" fill="#008088" stroke="#000" stroke-width="1.5"/>
<rect x="1296.7" y="715.44" width="15.5" height="25.67" fill="#00a010" stroke="#000" stroke-width="1.5"/>
<rect x="1296.7" y="689.76" width="15.5" height="25.67" fill="#00b810" stroke="#000" stroke-width="1.5"/>
<rect x="1296.7" y="664.09" width="15.5" height="25.67" fill="#00c810" stroke="#000" stroke-width="1.5"/>
<rect x="1296.7" y="638.42" width="15.5" height="25.67" fill="#18d818" stroke="#000" stroke-width="1.5"/>
<rect x="1296.7" y="612.75" width="15.5" height="25.67" fill="#40f010" stroke="#000" stroke-width="1.5"/>
<rect x="1296.7" y="587.08" width="15.5" height="25.67" fill="#ffe610" stroke="#000" stroke-width="1.5"/>
<rect x="1296.7" y="561.41" width="15.5" height="25.67" fill="#ffc810" stroke="#000" stroke-width="1.5"/>
<rect x="1296.7" y="535.74" width="15.5" height="25.67" fill="#ff0000" stroke="#000" stroke-width="1.5"/>
<rect x="1296.7" y="510.07" width="15.5" height="25.67" fill="#e80000" stroke="#000" stroke-width="1.5"/>
<rect x="1296.7" y="484.40" width="15.5" height="25.67" fill="#d80000" stroke="#000" stroke-width="1.5"/>
<rect x="1296.7" y="458.73" width="15.5" height="25.67" fill="#900000" stroke="#000" stroke-width="1.5"/>
<rect x="1296.7" y="433.06" width="15.5" height="25.67" fill="#880000" stroke="#000" stroke-width="1.5"/>
<rect x="1296.7" y="407.39" width="15.5" height="25.67" fill="#700000" stroke="#000" stroke-width="1.5"/>
<rect x="1296.7" y="381.72" width="15.5" height="25.67" fill="#600000" stroke="#000" stroke-width="1.5"/>
<rect x="1296.7" y="356.05" width="15.5" height="25.67" fill="#ff00ff" stroke="#000" stroke-width="1.5"/>
<rect x="1296.7" y="330.38" width="15.5" height="25.67" fill="#ff20ff" stroke="#000" stroke-width="1.5"/>
<rect x="1296.7" y="304.71" width="15.5" height="25.67" fill="#ff30ff" stroke="#000" stroke-width="1.5"/>
<rect x="1296.7" y="279.04" width="15.5" height="25.67" fill="#ffa0ff" stroke="#000" stroke-width="1.5"/>
<rect x="1296.7" y="253.36" width="15.5" height="25.67" fill="#ffb4ff" stroke="#000" stroke-width="1.5"/>
<rect x="1296.7" y="227.69" width="15.5" height="25.67" fill="#ffd0ff" stroke="#000" stroke-width="1.5"/>
<rect x="1296.7" y="202.02" width="15.5" height="25.67" fill="#dc00f4" stroke="#000" stroke-width="1.5"/>
<rect x="1296.7" y="176.35" width="15.5" height="25.67" fill="#d400f6" stroke="#000" stroke-width="1.5"/>
<rect x="1296.7" y="150.68" width="15.5" height="25.67" fill="#cc00f8" stroke="#000" stroke-width="1.5"/>
<rect x="1296.7" y="125.01" width="15.5" height="25.67" fill="#c400fa" stroke="#000" stroke-width="1.5"/>
<rect x="1296.7" y="99.34" width="15.5" height="25.67" fill="#bb00fc" stroke="#000" stroke-width="1.5"/>
<rect x="1296.7" y="73.67" width="15.5" height="25.67" fill="#b400ff" stroke="#000" stroke-width="1.5"/>
<rect x="1296.7" y="48.00" width="15.5" height="25.67" fill="#a800ff" stroke="#000" stroke-width="1.5"/>
<text x="1319.2" y="921.1" font-size="19.5">0</text>
<text x="1319.2" y="869.8" font-size="19.5">6</text>
<text x="1319.2" y="767.1" font-size="19.5">30</text>
<text x="1319.2" y="638.7" font-size="19.5">60</text>
<text x="1319.2" y="613.1" font-size="19.5">90</text>
<text x="1319.2" y="561.7" font-size="19.5">150</text>
<text x="1319.2" y="510.4" font-size="19.5">210</text>
<text x="1319.2" y="459.0" font-size="19.5">270</text>
<text x="1319.2" y="407.7" font-size="19.5">330</text>
<text x="1319.2" y="356.3" font-size="19.5">390</text>
<text x="1319.2" y="305.0" font-size="19.5">450</text>
<text x="1319.2" y="253.7" font-size="19.5">510</text>
<text x="1319.2" y="202.3" font-size="19.5">570</text>
<text x="1319.2" y="151.0" font-size="19.5">630</text>
<text x="1319.2" y="99.6" font-size="19.5">690</text>
<text x="1319.2" y="48.3" font-size="19.5">750</text>
</svg></body></html>
